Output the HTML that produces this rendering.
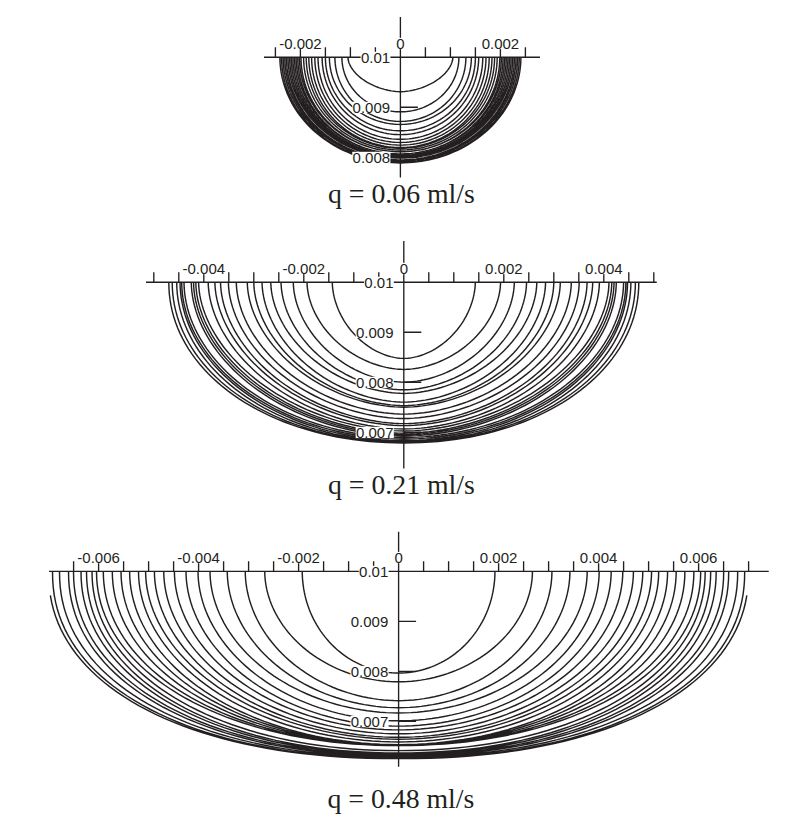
<!DOCTYPE html>
<html><head><meta charset="utf-8"><style>
html,body{margin:0;padding:0;background:#fff;width:800px;height:821px;overflow:hidden}
svg{position:absolute;left:0;top:0}
.arc{fill:none;stroke:#231f20;stroke-width:1.45}
.ax{fill:none;stroke:#231f20;stroke-width:1.35}
text{font-family:"Liberation Sans",sans-serif;font-size:15px;fill:#231f20}
.cap{font-family:"Liberation Serif",serif;font-size:27.8px;fill:#231f20}
</style></head><body>
<svg width="800" height="821" viewBox="0 0 800 821">
<path class="arc" d="M347.90,57.20 L347.94,58.03 L348.04,58.99 L348.22,60.01 L348.47,61.06 L348.79,62.13 L349.17,63.22 L349.63,64.33 L350.15,65.44 L350.75,66.56 L351.41,67.67 L352.13,68.79 L352.92,69.90 L353.77,71.00 L354.68,72.09 L355.65,73.17 L356.69,74.24 L357.77,75.29 L358.92,76.32 L360.11,77.33 L361.36,78.31 L362.65,79.28 L363.99,80.21 L365.38,81.13 L366.80,82.01 L368.27,82.86 L369.77,83.68 L371.31,84.46 L372.88,85.21 L374.47,85.93 L376.10,86.60 L377.74,87.24 L379.40,87.84 L381.08,88.40 L382.77,88.92 L384.46,89.40 L386.16,89.83 L387.86,90.22 L389.55,90.56 L391.23,90.86 L392.90,91.12 L394.53,91.33 L396.13,91.49 L397.68,91.61 L399.14,91.68 L400.40,91.70 L401.66,91.68 L403.12,91.61 L404.67,91.49 L406.27,91.33 L407.90,91.12 L409.57,90.86 L411.25,90.56 L412.94,90.22 L414.64,89.83 L416.34,89.40 L418.03,88.92 L419.72,88.40 L421.40,87.84 L423.06,87.24 L424.70,86.60 L426.33,85.93 L427.92,85.21 L429.49,84.46 L431.03,83.68 L432.53,82.86 L434.00,82.01 L435.42,81.13 L436.81,80.21 L438.15,79.28 L439.44,78.31 L440.69,77.33 L441.88,76.32 L443.03,75.29 L444.11,74.24 L445.15,73.17 L446.12,72.09 L447.03,71.00 L447.88,69.90 L448.67,68.79 L449.39,67.67 L450.05,66.56 L450.65,65.44 L451.17,64.33 L451.63,63.22 L452.01,62.13 L452.33,61.06 L452.58,60.01 L452.76,58.99 L452.86,58.03 L452.90,57.20 M341.90,57.20 L341.94,59.11 L342.04,61.01 L342.22,62.91 L342.47,64.80 L342.79,66.68 L343.18,68.55 L343.64,70.41 L344.17,72.25 L344.76,74.07 L345.43,75.87 L346.16,77.65 L346.96,79.41 L347.82,81.14 L348.75,82.83 L349.74,84.50 L350.79,86.13 L351.90,87.73 L353.07,89.29 L354.30,90.82 L355.59,92.30 L356.93,93.73 L358.32,95.13 L359.76,96.48 L361.26,97.78 L362.80,99.03 L364.38,100.23 L366.01,101.37 L367.69,102.47 L369.40,103.50 L371.15,104.48 L372.94,105.41 L374.76,106.27 L376.61,107.08 L378.49,107.82 L380.39,108.51 L382.32,109.13 L384.28,109.68 L386.25,110.18 L388.24,110.61 L390.24,110.97 L392.26,111.27 L394.29,111.50 L396.32,111.67 L398.36,111.77 L400.40,111.80 L402.44,111.77 L404.48,111.67 L406.51,111.50 L408.54,111.27 L410.56,110.97 L412.56,110.61 L414.55,110.18 L416.52,109.68 L418.48,109.13 L420.41,108.51 L422.31,107.82 L424.19,107.08 L426.04,106.27 L427.86,105.41 L429.65,104.48 L431.40,103.50 L433.11,102.47 L434.79,101.37 L436.42,100.23 L438.00,99.03 L439.54,97.78 L441.04,96.48 L442.48,95.13 L443.87,93.73 L445.21,92.30 L446.50,90.82 L447.73,89.29 L448.90,87.73 L450.01,86.13 L451.06,84.50 L452.05,82.83 L452.98,81.14 L453.84,79.41 L454.64,77.65 L455.37,75.87 L456.04,74.07 L456.63,72.25 L457.16,70.41 L457.62,68.55 L458.01,66.68 L458.33,64.80 L458.58,62.91 L458.76,61.01 L458.86,59.11 L458.90,57.20 M334.90,57.20 L334.94,59.44 L335.06,61.68 L335.26,63.91 L335.54,66.13 L335.90,68.35 L336.33,70.55 L336.85,72.73 L337.44,74.90 L338.11,77.04 L338.85,79.16 L339.67,81.25 L340.56,83.31 L341.53,85.34 L342.57,87.34 L343.68,89.30 L344.85,91.22 L346.10,93.10 L347.41,94.94 L348.79,96.73 L350.22,98.47 L351.72,100.16 L353.28,101.80 L354.90,103.38 L356.57,104.91 L358.30,106.38 L360.07,107.79 L361.90,109.14 L363.77,110.42 L365.69,111.64 L367.65,112.80 L369.65,113.89 L371.69,114.90 L373.76,115.85 L375.86,116.73 L378.00,117.53 L380.16,118.26 L382.35,118.91 L384.55,119.49 L386.78,120.00 L389.03,120.42 L391.28,120.78 L393.55,121.05 L395.83,121.24 L398.11,121.36 L400.40,121.40 L402.69,121.36 L404.97,121.24 L407.25,121.05 L409.52,120.78 L411.77,120.42 L414.02,120.00 L416.25,119.49 L418.45,118.91 L420.64,118.26 L422.80,117.53 L424.94,116.73 L427.04,115.85 L429.11,114.90 L431.15,113.89 L433.15,112.80 L435.11,111.64 L437.03,110.42 L438.90,109.14 L440.73,107.79 L442.50,106.38 L444.23,104.91 L445.90,103.38 L447.52,101.80 L449.08,100.16 L450.58,98.47 L452.01,96.73 L453.39,94.94 L454.70,93.10 L455.95,91.22 L457.12,89.30 L458.23,87.34 L459.27,85.34 L460.24,83.31 L461.13,81.25 L461.95,79.16 L462.69,77.04 L463.36,74.90 L463.95,72.73 L464.47,70.55 L464.90,68.35 L465.26,66.13 L465.54,63.91 L465.74,61.68 L465.86,59.44 L465.90,57.20 M329.40,57.20 L329.44,59.55 L329.57,61.89 L329.79,64.22 L330.09,66.55 L330.48,68.87 L330.95,71.17 L331.51,73.46 L332.15,75.72 L332.87,77.97 L333.68,80.18 L334.57,82.37 L335.54,84.53 L336.59,86.66 L337.71,88.75 L338.91,90.80 L340.19,92.81 L341.54,94.78 L342.96,96.70 L344.45,98.57 L346.01,100.40 L347.64,102.17 L349.33,103.88 L351.08,105.54 L352.89,107.14 L354.76,108.68 L356.69,110.15 L358.67,111.57 L360.70,112.91 L362.78,114.19 L364.90,115.40 L367.07,116.53 L369.28,117.60 L371.52,118.59 L373.80,119.51 L376.12,120.35 L378.46,121.11 L380.83,121.80 L383.22,122.40 L385.64,122.93 L388.07,123.38 L390.52,123.75 L392.98,124.03 L395.45,124.24 L397.92,124.36 L400.40,124.40 L402.88,124.36 L405.35,124.24 L407.82,124.03 L410.28,123.75 L412.73,123.38 L415.16,122.93 L417.58,122.40 L419.97,121.80 L422.34,121.11 L424.68,120.35 L427.00,119.51 L429.28,118.59 L431.52,117.60 L433.73,116.53 L435.90,115.40 L438.02,114.19 L440.10,112.91 L442.13,111.57 L444.11,110.15 L446.04,108.68 L447.91,107.14 L449.72,105.54 L451.47,103.88 L453.16,102.17 L454.79,100.40 L456.35,98.57 L457.84,96.70 L459.26,94.78 L460.61,92.81 L461.89,90.80 L463.09,88.75 L464.21,86.66 L465.26,84.53 L466.23,82.37 L467.12,80.18 L467.93,77.97 L468.65,75.72 L469.29,73.46 L469.85,71.17 L470.32,68.87 L470.71,66.55 L471.01,64.22 L471.23,61.89 L471.36,59.55 L471.40,57.20 M325.40,57.20 L325.45,59.77 L325.58,62.33 L325.81,64.89 L326.13,67.44 L326.54,69.98 L327.04,72.50 L327.63,75.01 L328.31,77.49 L329.07,79.94 L329.92,82.37 L330.86,84.77 L331.88,87.14 L332.99,89.46 L334.18,91.75 L335.45,94.00 L336.80,96.20 L338.22,98.36 L339.72,100.46 L341.30,102.51 L342.95,104.51 L344.66,106.45 L346.45,108.33 L348.30,110.14 L350.22,111.90 L352.19,113.58 L354.23,115.20 L356.32,116.74 L358.46,118.22 L360.66,119.62 L362.90,120.94 L365.19,122.18 L367.52,123.35 L369.89,124.44 L372.30,125.44 L374.75,126.36 L377.22,127.20 L379.73,127.95 L382.26,128.61 L384.81,129.19 L387.38,129.68 L389.96,130.08 L392.56,130.40 L395.17,130.62 L397.78,130.76 L400.40,130.80 L403.02,130.76 L405.63,130.62 L408.24,130.40 L410.84,130.08 L413.42,129.68 L415.99,129.19 L418.54,128.61 L421.07,127.95 L423.58,127.20 L426.05,126.36 L428.50,125.44 L430.91,124.44 L433.28,123.35 L435.61,122.18 L437.90,120.94 L440.14,119.62 L442.34,118.22 L444.48,116.74 L446.57,115.20 L448.61,113.58 L450.58,111.90 L452.50,110.14 L454.35,108.33 L456.14,106.45 L457.85,104.51 L459.50,102.51 L461.08,100.46 L462.58,98.36 L464.00,96.20 L465.35,94.00 L466.62,91.75 L467.81,89.46 L468.92,87.14 L469.94,84.77 L470.88,82.37 L471.73,79.94 L472.49,77.49 L473.17,75.01 L473.76,72.50 L474.26,69.98 L474.67,67.44 L474.99,64.89 L475.22,62.33 L475.35,59.77 L475.40,57.20 M322.10,57.20 L322.15,59.90 L322.29,62.60 L322.53,65.29 L322.86,67.97 L323.29,70.64 L323.81,73.29 L324.43,75.92 L325.13,78.53 L325.93,81.12 L326.82,83.67 L327.80,86.19 L328.87,88.68 L330.02,91.13 L331.27,93.54 L332.59,95.90 L334.00,98.22 L335.49,100.48 L337.05,102.69 L338.70,104.85 L340.42,106.95 L342.21,108.99 L344.08,110.97 L346.01,112.88 L348.01,114.72 L350.07,116.49 L352.19,118.19 L354.38,119.82 L356.62,121.37 L358.91,122.84 L361.25,124.23 L363.64,125.54 L366.08,126.77 L368.55,127.91 L371.07,128.96 L373.62,129.93 L376.20,130.81 L378.82,131.60 L381.46,132.30 L384.12,132.91 L386.80,133.42 L389.50,133.85 L392.22,134.18 L394.94,134.41 L397.67,134.55 L400.40,134.60 L403.13,134.55 L405.86,134.41 L408.58,134.18 L411.30,133.85 L414.00,133.42 L416.68,132.91 L419.34,132.30 L421.98,131.60 L424.60,130.81 L427.18,129.93 L429.73,128.96 L432.25,127.91 L434.72,126.77 L437.16,125.54 L439.55,124.23 L441.89,122.84 L444.18,121.37 L446.42,119.82 L448.61,118.19 L450.73,116.49 L452.79,114.72 L454.79,112.88 L456.72,110.97 L458.59,108.99 L460.38,106.95 L462.10,104.85 L463.75,102.69 L465.31,100.48 L466.80,98.22 L468.21,95.90 L469.53,93.54 L470.78,91.13 L471.93,88.68 L473.00,86.19 L473.98,83.67 L474.87,81.12 L475.67,78.53 L476.37,75.92 L476.99,73.29 L477.51,70.64 L477.94,67.97 L478.27,65.29 L478.51,62.60 L478.65,59.90 L478.70,57.20 M318.00,57.20 L318.05,60.07 L318.20,62.93 L318.45,65.78 L318.80,68.63 L319.25,71.46 L319.80,74.27 L320.45,77.06 L321.19,79.83 L322.03,82.57 L322.97,85.28 L324.00,87.96 L325.12,90.59 L326.34,93.19 L327.65,95.74 L329.04,98.25 L330.52,100.71 L332.09,103.11 L333.74,105.46 L335.47,107.75 L337.28,109.97 L339.16,112.14 L341.13,114.23 L343.16,116.26 L345.26,118.21 L347.43,120.09 L349.67,121.90 L351.97,123.62 L354.32,125.26 L356.73,126.82 L359.20,128.30 L361.72,129.69 L364.28,130.99 L366.88,132.20 L369.53,133.32 L372.22,134.35 L374.94,135.28 L377.69,136.12 L380.47,136.86 L383.27,137.51 L386.09,138.05 L388.93,138.50 L391.79,138.85 L394.65,139.10 L397.52,139.25 L400.40,139.30 L403.28,139.25 L406.15,139.10 L409.01,138.85 L411.87,138.50 L414.71,138.05 L417.53,137.51 L420.33,136.86 L423.11,136.12 L425.86,135.28 L428.58,134.35 L431.27,133.32 L433.92,132.20 L436.52,130.99 L439.08,129.69 L441.60,128.30 L444.07,126.82 L446.48,125.26 L448.83,123.62 L451.13,121.90 L453.37,120.09 L455.54,118.21 L457.64,116.26 L459.67,114.23 L461.64,112.14 L463.52,109.97 L465.33,107.75 L467.06,105.46 L468.71,103.11 L470.28,100.71 L471.76,98.25 L473.15,95.74 L474.46,93.19 L475.68,90.59 L476.80,87.96 L477.83,85.28 L478.77,82.57 L479.61,79.83 L480.35,77.06 L481.00,74.27 L481.55,71.46 L482.00,68.63 L482.35,65.78 L482.60,62.93 L482.75,60.07 L482.80,57.20 M314.80,57.20 L314.85,60.17 L315.01,63.14 L315.27,66.11 L315.63,69.06 L316.10,71.99 L316.67,74.91 L317.34,77.81 L318.12,80.68 L318.99,83.53 L319.96,86.34 L321.03,89.12 L322.20,91.85 L323.46,94.55 L324.82,97.20 L326.27,99.80 L327.81,102.35 L329.43,104.84 L331.15,107.28 L332.95,109.65 L334.83,111.97 L336.79,114.21 L338.82,116.38 L340.94,118.49 L343.12,120.52 L345.38,122.47 L347.70,124.34 L350.09,126.13 L352.53,127.83 L355.04,129.45 L357.60,130.99 L360.21,132.43 L362.88,133.78 L365.58,135.03 L368.33,136.20 L371.12,137.26 L373.95,138.23 L376.81,139.10 L379.69,139.87 L382.60,140.54 L385.54,141.11 L388.49,141.57 L391.45,141.93 L394.43,142.19 L397.41,142.35 L400.40,142.40 L403.39,142.35 L406.37,142.19 L409.35,141.93 L412.31,141.57 L415.26,141.11 L418.20,140.54 L421.11,139.87 L423.99,139.10 L426.85,138.23 L429.68,137.26 L432.47,136.20 L435.22,135.03 L437.92,133.78 L440.59,132.43 L443.20,130.99 L445.76,129.45 L448.27,127.83 L450.71,126.13 L453.10,124.34 L455.42,122.47 L457.68,120.52 L459.86,118.49 L461.98,116.38 L464.01,114.21 L465.97,111.97 L467.85,109.65 L469.65,107.28 L471.37,104.84 L472.99,102.35 L474.53,99.80 L475.98,97.20 L477.34,94.55 L478.60,91.85 L479.77,89.12 L480.84,86.34 L481.81,83.53 L482.68,80.68 L483.46,77.81 L484.13,74.91 L484.70,71.99 L485.17,69.06 L485.53,66.11 L485.79,63.14 L485.95,60.17 L486.00,57.20 M311.60,57.20 L311.65,60.27 L311.82,63.33 L312.09,66.39 L312.46,69.43 L312.95,72.46 L313.54,75.48 L314.24,78.46 L315.04,81.43 L315.95,84.36 L316.96,87.26 L318.07,90.13 L319.28,92.95 L320.59,95.73 L321.99,98.47 L323.50,101.15 L325.09,103.78 L326.78,106.35 L328.56,108.87 L330.42,111.32 L332.38,113.70 L334.41,116.02 L336.52,118.26 L338.71,120.43 L340.98,122.52 L343.32,124.54 L345.73,126.47 L348.20,128.31 L350.74,130.07 L353.34,131.74 L356.00,133.32 L358.71,134.81 L361.47,136.20 L364.28,137.50 L367.13,138.70 L370.03,139.80 L372.96,140.80 L375.92,141.69 L378.92,142.49 L381.94,143.18 L384.98,143.76 L388.04,144.24 L391.12,144.62 L394.21,144.89 L397.30,145.05 L400.40,145.10 L403.50,145.05 L406.59,144.89 L409.68,144.62 L412.76,144.24 L415.82,143.76 L418.86,143.18 L421.88,142.49 L424.88,141.69 L427.84,140.80 L430.77,139.80 L433.67,138.70 L436.52,137.50 L439.33,136.20 L442.09,134.81 L444.80,133.32 L447.46,131.74 L450.06,130.07 L452.60,128.31 L455.07,126.47 L457.48,124.54 L459.82,122.52 L462.09,120.43 L464.28,118.26 L466.39,116.02 L468.42,113.70 L470.38,111.32 L472.24,108.87 L474.02,106.35 L475.71,103.78 L477.30,101.15 L478.81,98.47 L480.21,95.73 L481.52,92.95 L482.73,90.13 L483.84,87.26 L484.85,84.36 L485.76,81.43 L486.56,78.46 L487.26,75.48 L487.85,72.46 L488.34,69.43 L488.71,66.39 L488.98,63.33 L489.15,60.27 L489.20,57.20 M308.80,57.20 L308.86,60.35 L309.02,63.50 L309.30,66.64 L309.69,69.77 L310.19,72.88 L310.80,75.97 L311.52,79.05 L312.35,82.09 L313.28,85.10 L314.32,88.08 L315.47,91.03 L316.72,93.93 L318.07,96.78 L319.52,99.59 L321.07,102.35 L322.72,105.05 L324.46,107.70 L326.29,110.28 L328.22,112.79 L330.23,115.24 L332.33,117.62 L334.51,119.93 L336.77,122.16 L339.11,124.31 L341.52,126.37 L344.01,128.36 L346.56,130.25 L349.18,132.06 L351.86,133.78 L354.60,135.40 L357.40,136.93 L360.25,138.36 L363.14,139.69 L366.09,140.92 L369.07,142.05 L372.09,143.08 L375.15,144.00 L378.24,144.82 L381.36,145.53 L384.49,146.13 L387.65,146.62 L390.83,147.01 L394.01,147.28 L397.20,147.44 L400.40,147.50 L403.60,147.44 L406.79,147.28 L409.97,147.01 L413.15,146.62 L416.31,146.13 L419.44,145.53 L422.56,144.82 L425.65,144.00 L428.71,143.08 L431.73,142.05 L434.71,140.92 L437.66,139.69 L440.55,138.36 L443.40,136.93 L446.20,135.40 L448.94,133.78 L451.62,132.06 L454.24,130.25 L456.79,128.36 L459.28,126.37 L461.69,124.31 L464.03,122.16 L466.29,119.93 L468.47,117.62 L470.57,115.24 L472.58,112.79 L474.51,110.28 L476.34,107.70 L478.08,105.05 L479.73,102.35 L481.28,99.59 L482.73,96.78 L484.08,93.93 L485.33,91.03 L486.48,88.08 L487.52,85.10 L488.45,82.09 L489.28,79.05 L490.00,75.97 L490.61,72.88 L491.11,69.77 L491.50,66.64 L491.78,63.50 L491.94,60.35 L492.00,57.20 M306.20,57.20 L306.26,60.38 L306.43,63.55 L306.72,66.72 L307.12,69.88 L307.63,73.02 L308.26,76.14 L309.00,79.24 L309.85,82.31 L310.81,85.35 L311.88,88.36 L313.06,91.33 L314.34,94.25 L315.73,97.14 L317.23,99.97 L318.82,102.75 L320.51,105.48 L322.30,108.14 L324.19,110.75 L326.17,113.29 L328.24,115.76 L330.40,118.16 L332.64,120.48 L334.96,122.73 L337.37,124.90 L339.85,126.99 L342.40,128.99 L345.03,130.90 L347.72,132.73 L350.48,134.46 L353.30,136.09 L356.18,137.64 L359.11,139.08 L362.09,140.42 L365.11,141.67 L368.18,142.81 L371.29,143.84 L374.43,144.77 L377.61,145.59 L380.81,146.31 L384.04,146.92 L387.29,147.41 L390.55,147.80 L393.83,148.08 L397.11,148.24 L400.40,148.30 L403.69,148.24 L406.97,148.08 L410.25,147.80 L413.51,147.41 L416.76,146.92 L419.99,146.31 L423.19,145.59 L426.37,144.77 L429.51,143.84 L432.62,142.81 L435.69,141.67 L438.71,140.42 L441.69,139.08 L444.62,137.64 L447.50,136.09 L450.32,134.46 L453.08,132.73 L455.77,130.90 L458.40,128.99 L460.95,126.99 L463.43,124.90 L465.84,122.73 L468.16,120.48 L470.40,118.16 L472.56,115.76 L474.63,113.29 L476.61,110.75 L478.50,108.14 L480.29,105.48 L481.98,102.75 L483.57,99.97 L485.07,97.14 L486.46,94.25 L487.74,91.33 L488.92,88.36 L489.99,85.35 L490.95,82.31 L491.80,79.24 L492.54,76.14 L493.17,73.02 L493.68,69.88 L494.08,66.72 L494.37,63.55 L494.54,60.38 L494.60,57.20 M303.60,57.20 L303.66,60.44 L303.84,63.67 L304.13,66.90 L304.54,70.12 L305.07,73.31 L305.72,76.49 L306.48,79.65 L307.35,82.78 L308.34,85.88 L309.44,88.94 L310.65,91.96 L311.97,94.95 L313.40,97.88 L314.93,100.77 L316.57,103.60 L318.31,106.38 L320.15,109.09 L322.09,111.75 L324.12,114.33 L326.25,116.85 L328.46,119.30 L330.77,121.66 L333.16,123.95 L335.63,126.16 L338.18,128.29 L340.80,130.33 L343.50,132.28 L346.27,134.13 L349.10,135.90 L352.00,137.57 L354.96,139.14 L357.97,140.61 L361.03,141.98 L364.14,143.24 L367.29,144.40 L370.49,145.46 L373.72,146.41 L376.98,147.24 L380.27,147.97 L383.59,148.59 L386.93,149.10 L390.28,149.49 L393.65,149.77 L397.02,149.94 L400.40,150.00 L403.78,149.94 L407.15,149.77 L410.52,149.49 L413.87,149.10 L417.21,148.59 L420.53,147.97 L423.82,147.24 L427.08,146.41 L430.31,145.46 L433.51,144.40 L436.66,143.24 L439.77,141.98 L442.83,140.61 L445.84,139.14 L448.80,137.57 L451.70,135.90 L454.53,134.13 L457.30,132.28 L460.00,130.33 L462.62,128.29 L465.17,126.16 L467.64,123.95 L470.03,121.66 L472.34,119.30 L474.55,116.85 L476.68,114.33 L478.71,111.75 L480.65,109.09 L482.49,106.38 L484.23,103.60 L485.87,100.77 L487.40,97.88 L488.83,94.95 L490.15,91.96 L491.36,88.94 L492.46,85.88 L493.45,82.78 L494.32,79.65 L495.08,76.49 L495.73,73.31 L496.26,70.12 L496.67,66.90 L496.96,63.67 L497.14,60.44 L497.20,57.20 M301.00,57.20 L301.06,60.50 L301.24,63.80 L301.54,67.08 L301.97,70.36 L302.51,73.62 L303.17,76.86 L303.95,80.07 L304.85,83.26 L305.86,86.42 L306.99,89.54 L308.24,92.62 L309.59,95.66 L311.06,98.65 L312.64,101.59 L314.32,104.47 L316.10,107.30 L317.99,110.07 L319.98,112.78 L322.07,115.41 L324.26,117.98 L326.53,120.47 L328.90,122.88 L331.35,125.21 L333.89,127.46 L336.51,129.63 L339.20,131.71 L341.97,133.69 L344.82,135.59 L347.73,137.38 L350.70,139.08 L353.73,140.68 L356.83,142.18 L359.97,143.58 L363.16,144.87 L366.40,146.05 L369.68,147.12 L373.00,148.09 L376.35,148.94 L379.73,149.68 L383.14,150.31 L386.57,150.83 L390.01,151.23 L393.47,151.52 L396.93,151.69 L400.40,151.75 L403.87,151.69 L407.33,151.52 L410.79,151.23 L414.23,150.83 L417.66,150.31 L421.07,149.68 L424.45,148.94 L427.80,148.09 L431.12,147.12 L434.40,146.05 L437.64,144.87 L440.83,143.58 L443.97,142.18 L447.07,140.68 L450.10,139.08 L453.07,137.38 L455.98,135.59 L458.83,133.69 L461.60,131.71 L464.29,129.63 L466.91,127.46 L469.45,125.21 L471.90,122.88 L474.27,120.47 L476.54,117.98 L478.73,115.41 L480.82,112.78 L482.81,110.07 L484.70,107.30 L486.48,104.47 L488.16,101.59 L489.74,98.65 L491.21,95.66 L492.56,92.62 L493.81,89.54 L494.94,86.42 L495.95,83.26 L496.85,80.07 L497.63,76.86 L498.29,73.62 L498.83,70.36 L499.26,67.08 L499.56,63.80 L499.74,60.50 L499.80,57.20 M299.38,57.20 L299.44,60.50 L299.63,63.80 L299.93,67.08 L300.36,70.36 L300.91,73.62 L301.59,76.86 L302.38,80.07 L303.29,83.26 L304.32,86.42 L305.47,89.54 L306.74,92.62 L308.11,95.66 L309.60,98.65 L311.20,101.59 L312.91,104.47 L314.73,107.30 L316.65,110.07 L318.67,112.78 L320.80,115.41 L323.01,117.98 L325.33,120.47 L327.73,122.88 L330.23,125.21 L332.80,127.46 L335.47,129.63 L338.21,131.71 L341.02,133.69 L343.91,135.59 L346.87,137.38 L349.89,139.08 L352.97,140.68 L356.12,142.18 L359.31,143.58 L362.56,144.87 L365.85,146.05 L369.18,147.12 L372.56,148.09 L375.96,148.94 L379.40,149.68 L382.86,150.31 L386.34,150.83 L389.84,151.23 L393.35,151.52 L396.87,151.69 L400.40,151.75 L403.93,151.69 L407.45,151.52 L410.96,151.23 L414.46,150.83 L417.94,150.31 L421.40,149.68 L424.84,148.94 L428.24,148.09 L431.62,147.12 L434.95,146.05 L438.24,144.87 L441.49,143.58 L444.68,142.18 L447.83,140.68 L450.91,139.08 L453.93,137.38 L456.89,135.59 L459.78,133.69 L462.59,131.71 L465.33,129.63 L468.00,127.46 L470.57,125.21 L473.07,122.88 L475.47,120.47 L477.79,117.98 L480.00,115.41 L482.13,112.78 L484.15,110.07 L486.07,107.30 L487.89,104.47 L489.60,101.59 L491.20,98.65 L492.69,95.66 L494.06,92.62 L495.33,89.54 L496.48,86.42 L497.51,83.26 L498.42,80.07 L499.21,76.86 L499.89,73.62 L500.44,70.36 L500.87,67.08 L501.17,63.80 L501.36,60.50 L501.42,57.20 M297.75,57.20 L297.81,60.57 L298.00,63.95 L298.31,67.31 L298.75,70.66 L299.31,73.99 L299.99,77.31 L300.80,80.59 L301.73,83.85 L302.77,87.08 L303.94,90.27 L305.22,93.42 L306.62,96.53 L308.14,99.59 L309.77,102.60 L311.50,105.55 L313.35,108.44 L315.30,111.27 L317.35,114.04 L319.51,116.73 L321.77,119.36 L324.12,121.90 L326.56,124.37 L329.09,126.76 L331.71,129.06 L334.42,131.28 L337.20,133.40 L340.06,135.43 L343.00,137.37 L346.00,139.21 L349.07,140.94 L352.21,142.58 L355.40,144.11 L358.65,145.54 L361.95,146.86 L365.29,148.07 L368.68,149.17 L372.11,150.15 L375.57,151.03 L379.06,151.79 L382.58,152.43 L386.11,152.96 L389.67,153.37 L393.24,153.66 L396.82,153.84 L400.40,153.90 L403.98,153.84 L407.56,153.66 L411.13,153.37 L414.69,152.96 L418.22,152.43 L421.74,151.79 L425.23,151.03 L428.69,150.15 L432.12,149.17 L435.51,148.07 L438.85,146.86 L442.15,145.54 L445.40,144.11 L448.59,142.58 L451.72,140.94 L454.80,139.21 L457.80,137.37 L460.74,135.43 L463.60,133.40 L466.38,131.28 L469.09,129.06 L471.71,126.76 L474.24,124.37 L476.68,121.90 L479.03,119.36 L481.29,116.73 L483.45,114.04 L485.50,111.27 L487.45,108.44 L489.30,105.55 L491.03,102.60 L492.66,99.59 L494.18,96.53 L495.58,93.42 L496.86,90.27 L498.03,87.08 L499.07,83.85 L500.00,80.59 L500.81,77.31 L501.49,73.99 L502.05,70.66 L502.49,67.31 L502.80,63.95 L502.99,60.57 L503.05,57.20 M296.13,57.20 L296.19,60.57 L296.38,63.95 L296.70,67.31 L297.14,70.66 L297.71,73.99 L298.41,77.31 L299.23,80.59 L300.17,83.85 L301.23,87.08 L302.42,90.27 L303.72,93.42 L305.14,96.53 L306.68,99.59 L308.34,102.60 L310.10,105.55 L311.97,108.44 L313.96,111.27 L316.04,114.04 L318.23,116.73 L320.52,119.36 L322.91,121.90 L325.39,124.37 L327.97,126.76 L330.63,129.06 L333.38,131.28 L336.20,133.40 L339.11,135.43 L342.09,137.37 L345.15,139.21 L348.26,140.94 L351.45,142.58 L354.69,144.11 L357.99,145.54 L361.34,146.86 L364.74,148.07 L368.18,149.17 L371.66,150.15 L375.17,151.03 L378.72,151.79 L382.29,152.43 L385.89,152.96 L389.50,153.37 L393.13,153.66 L396.76,153.84 L400.40,153.90 L404.04,153.84 L407.67,153.66 L411.30,153.37 L414.91,152.96 L418.51,152.43 L422.08,151.79 L425.63,151.03 L429.14,150.15 L432.62,149.17 L436.06,148.07 L439.46,146.86 L442.81,145.54 L446.11,144.11 L449.35,142.58 L452.53,140.94 L455.65,139.21 L458.71,137.37 L461.69,135.43 L464.60,133.40 L467.42,131.28 L470.17,129.06 L472.83,126.76 L475.41,124.37 L477.89,121.90 L480.28,119.36 L482.57,116.73 L484.76,114.04 L486.84,111.27 L488.83,108.44 L490.70,105.55 L492.46,102.60 L494.12,99.59 L495.66,96.53 L497.08,93.42 L498.38,90.27 L499.57,87.08 L500.63,83.85 L501.57,80.59 L502.39,77.31 L503.09,73.99 L503.66,70.66 L504.10,67.31 L504.42,63.95 L504.61,60.57 L504.67,57.20 M294.51,57.20 L294.57,60.62 L294.77,64.04 L295.09,67.45 L295.54,70.85 L296.12,74.23 L296.82,77.60 L297.66,80.93 L298.61,84.24 L299.69,87.51 L300.90,90.75 L302.22,93.95 L303.66,97.10 L305.23,100.20 L306.90,103.26 L308.70,106.25 L310.60,109.19 L312.61,112.06 L314.73,114.86 L316.96,117.60 L319.28,120.26 L321.71,122.84 L324.23,125.35 L326.84,127.77 L329.55,130.10 L332.34,132.35 L335.21,134.50 L338.16,136.56 L341.19,138.53 L344.29,140.39 L347.45,142.16 L350.69,143.82 L353.98,145.37 L357.33,146.82 L360.73,148.16 L364.18,149.38 L367.68,150.50 L371.21,151.50 L374.78,152.39 L378.38,153.16 L382.01,153.81 L385.66,154.35 L389.33,154.76 L393.01,155.06 L396.70,155.24 L400.40,155.30 L404.10,155.24 L407.79,155.06 L411.47,154.76 L415.14,154.35 L418.79,153.81 L422.42,153.16 L426.02,152.39 L429.59,151.50 L433.12,150.50 L436.62,149.38 L440.07,148.16 L443.47,146.82 L446.82,145.37 L450.11,143.82 L453.34,142.16 L456.51,140.39 L459.61,138.53 L462.64,136.56 L465.59,134.50 L468.46,132.35 L471.25,130.10 L473.96,127.77 L476.57,125.35 L479.09,122.84 L481.52,120.26 L483.84,117.60 L486.07,114.86 L488.19,112.06 L490.20,109.19 L492.10,106.25 L493.90,103.26 L495.57,100.20 L497.14,97.10 L498.58,93.95 L499.90,90.75 L501.11,87.51 L502.19,84.24 L503.14,80.93 L503.98,77.60 L504.68,74.23 L505.26,70.85 L505.71,67.45 L506.03,64.04 L506.23,60.62 L506.29,57.20 M292.88,57.20 L292.95,60.66 L293.14,64.11 L293.47,67.55 L293.93,70.98 L294.51,74.39 L295.23,77.78 L296.07,81.15 L297.05,84.49 L298.14,87.79 L299.36,91.06 L300.71,94.29 L302.18,97.47 L303.76,100.60 L305.47,103.68 L307.28,106.70 L309.22,109.66 L311.26,112.56 L313.41,115.39 L315.67,118.15 L318.03,120.84 L320.50,123.44 L323.06,125.97 L325.71,128.41 L328.46,130.77 L331.29,133.04 L334.20,135.21 L337.20,137.29 L340.28,139.27 L343.42,141.16 L346.64,142.94 L349.92,144.61 L353.27,146.18 L356.67,147.64 L360.12,148.99 L363.63,150.23 L367.17,151.35 L370.76,152.36 L374.39,153.26 L378.05,154.04 L381.73,154.70 L385.44,155.24 L389.16,155.66 L392.90,155.96 L396.65,156.14 L400.40,156.20 L404.15,156.14 L407.90,155.96 L411.64,155.66 L415.36,155.24 L419.07,154.70 L422.75,154.04 L426.41,153.26 L430.04,152.36 L433.63,151.35 L437.17,150.23 L440.68,148.99 L444.13,147.64 L447.53,146.18 L450.88,144.61 L454.16,142.94 L457.38,141.16 L460.52,139.27 L463.60,137.29 L466.60,135.21 L469.51,133.04 L472.34,130.77 L475.09,128.41 L477.74,125.97 L480.30,123.44 L482.77,120.84 L485.13,118.15 L487.39,115.39 L489.54,112.56 L491.58,109.66 L493.52,106.70 L495.33,103.68 L497.04,100.60 L498.62,97.47 L500.09,94.29 L501.44,91.06 L502.66,87.79 L503.75,84.49 L504.73,81.15 L505.57,77.78 L506.29,74.39 L506.87,70.98 L507.33,67.55 L507.66,64.11 L507.85,60.66 L507.92,57.20 M291.26,57.20 L291.33,60.68 L291.53,64.16 L291.86,67.63 L292.32,71.09 L292.92,74.53 L293.64,77.95 L294.50,81.34 L295.49,84.71 L296.60,88.04 L297.84,91.33 L299.21,94.59 L300.70,97.79 L302.31,100.95 L304.04,104.05 L305.88,107.10 L307.84,110.09 L309.92,113.01 L312.10,115.86 L314.40,118.64 L316.79,121.35 L319.29,123.98 L321.89,126.53 L324.58,128.99 L327.37,131.37 L330.25,133.65 L333.21,135.84 L336.25,137.94 L339.37,139.94 L342.56,141.84 L345.83,143.63 L349.16,145.32 L352.56,146.90 L356.01,148.37 L359.52,149.73 L363.07,150.98 L366.67,152.12 L370.32,153.13 L374.00,154.04 L377.71,154.82 L381.45,155.48 L385.21,156.03 L388.99,156.45 L392.79,156.76 L396.59,156.94 L400.40,157.00 L404.21,156.94 L408.01,156.76 L411.81,156.45 L415.59,156.03 L419.35,155.48 L423.09,154.82 L426.80,154.04 L430.48,153.13 L434.13,152.12 L437.73,150.98 L441.28,149.73 L444.79,148.37 L448.24,146.90 L451.64,145.32 L454.97,143.63 L458.24,141.84 L461.43,139.94 L464.55,137.94 L467.59,135.84 L470.55,133.65 L473.43,131.37 L476.22,128.99 L478.91,126.53 L481.51,123.98 L484.01,121.35 L486.40,118.64 L488.70,115.86 L490.88,113.01 L492.96,110.09 L494.92,107.10 L496.76,104.05 L498.49,100.95 L500.10,97.79 L501.59,94.59 L502.96,91.33 L504.20,88.04 L505.31,84.71 L506.30,81.34 L507.16,77.95 L507.88,74.53 L508.48,71.09 L508.94,67.63 L509.27,64.16 L509.47,60.68 L509.54,57.20 M289.64,57.20 L289.71,60.71 L289.91,64.22 L290.25,67.72 L290.72,71.20 L291.32,74.67 L292.06,78.12 L292.93,81.54 L293.93,84.93 L295.06,88.29 L296.32,91.61 L297.71,94.89 L299.22,98.12 L300.85,101.30 L302.60,104.43 L304.48,107.50 L306.47,110.51 L308.58,113.45 L310.79,116.33 L313.12,119.14 L315.55,121.86 L318.09,124.51 L320.73,127.08 L323.46,129.57 L326.29,131.96 L329.20,134.26 L332.21,136.47 L335.30,138.59 L338.46,140.60 L341.71,142.51 L345.02,144.32 L348.40,146.02 L351.85,147.62 L355.35,149.10 L358.91,150.47 L362.52,151.73 L366.17,152.88 L369.87,153.90 L373.60,154.81 L377.37,155.60 L381.17,156.27 L384.99,156.82 L388.82,157.25 L392.67,157.55 L396.53,157.74 L400.40,157.80 L404.27,157.74 L408.13,157.55 L411.98,157.25 L415.81,156.82 L419.63,156.27 L423.43,155.60 L427.20,154.81 L430.93,153.90 L434.63,152.88 L438.28,151.73 L441.89,150.47 L445.45,149.10 L448.95,147.62 L452.40,146.02 L455.78,144.32 L459.09,142.51 L462.34,140.60 L465.50,138.59 L468.59,136.47 L471.60,134.26 L474.51,131.96 L477.34,129.57 L480.07,127.08 L482.71,124.51 L485.25,121.86 L487.68,119.14 L490.01,116.33 L492.22,113.45 L494.33,110.51 L496.32,107.50 L498.20,104.43 L499.95,101.30 L501.58,98.12 L503.09,94.89 L504.48,91.61 L505.74,88.29 L506.87,84.93 L507.87,81.54 L508.74,78.12 L509.48,74.67 L510.08,71.20 L510.55,67.72 L510.89,64.22 L511.09,60.71 L511.16,57.20 M288.02,57.20 L288.09,60.72 L288.29,64.24 L288.64,67.75 L289.11,71.24 L289.73,74.72 L290.48,78.18 L291.36,81.61 L292.37,85.01 L293.52,88.38 L294.80,91.71 L296.20,95.00 L297.74,98.24 L299.39,101.43 L301.17,104.57 L303.08,107.65 L305.10,110.67 L307.23,113.62 L309.48,116.51 L311.84,119.32 L314.31,122.06 L316.89,124.72 L319.56,127.29 L322.33,129.78 L325.20,132.18 L328.16,134.49 L331.21,136.71 L334.34,138.83 L337.56,140.85 L340.85,142.77 L344.21,144.58 L347.64,146.29 L351.14,147.89 L354.69,149.38 L358.30,150.75 L361.96,152.01 L365.67,153.16 L369.42,154.19 L373.21,155.10 L377.03,155.90 L380.89,156.57 L384.76,157.12 L388.65,157.55 L392.56,157.85 L396.48,158.04 L400.40,158.10 L404.32,158.04 L408.24,157.85 L412.15,157.55 L416.04,157.12 L419.91,156.57 L423.77,155.90 L427.59,155.10 L431.38,154.19 L435.13,153.16 L438.84,152.01 L442.50,150.75 L446.11,149.38 L449.66,147.89 L453.16,146.29 L456.59,144.58 L459.95,142.77 L463.24,140.85 L466.46,138.83 L469.59,136.71 L472.64,134.49 L475.60,132.18 L478.47,129.78 L481.24,127.29 L483.91,124.72 L486.49,122.06 L488.96,119.32 L491.32,116.51 L493.57,113.62 L495.70,110.67 L497.72,107.65 L499.63,104.57 L501.41,101.43 L503.06,98.24 L504.60,95.00 L506.00,91.71 L507.28,88.38 L508.43,85.01 L509.44,81.61 L510.32,78.18 L511.07,74.72 L511.69,71.24 L512.16,67.75 L512.51,64.24 L512.71,60.72 L512.78,57.20 M286.39,57.20 L286.46,60.78 L286.67,64.36 L287.01,67.93 L287.50,71.49 L288.12,75.02 L288.88,78.54 L289.78,82.03 L290.81,85.49 L291.97,88.92 L293.27,92.31 L294.69,95.65 L296.25,98.95 L297.93,102.20 L299.74,105.39 L301.66,108.52 L303.71,111.60 L305.88,114.60 L308.16,117.54 L310.56,120.40 L313.06,123.18 L315.67,125.89 L318.39,128.51 L321.20,131.04 L324.11,133.48 L327.12,135.83 L330.21,138.09 L333.39,140.25 L336.65,142.30 L339.98,144.25 L343.39,146.10 L346.88,147.83 L350.42,149.46 L354.03,150.98 L357.69,152.38 L361.41,153.66 L365.17,154.83 L368.97,155.87 L372.82,156.80 L376.70,157.61 L380.60,158.29 L384.53,158.85 L388.48,159.29 L392.45,159.60 L396.42,159.79 L400.40,159.85 L404.38,159.79 L408.35,159.60 L412.32,159.29 L416.27,158.85 L420.20,158.29 L424.10,157.61 L427.98,156.80 L431.83,155.87 L435.63,154.83 L439.39,153.66 L443.11,152.38 L446.77,150.98 L450.38,149.46 L453.92,147.83 L457.40,146.10 L460.82,144.25 L464.15,142.30 L467.41,140.25 L470.59,138.09 L473.68,135.83 L476.69,133.48 L479.60,131.04 L482.41,128.51 L485.13,125.89 L487.74,123.18 L490.24,120.40 L492.64,117.54 L494.92,114.60 L497.09,111.60 L499.14,108.52 L501.06,105.39 L502.87,102.20 L504.55,98.95 L506.11,95.65 L507.53,92.31 L508.83,88.92 L509.99,85.49 L511.02,82.03 L511.92,78.54 L512.68,75.02 L513.30,71.49 L513.79,67.93 L514.13,64.36 L514.34,60.78 L514.41,57.20 M284.77,57.20 L284.84,60.78 L285.05,64.36 L285.40,67.93 L285.90,71.49 L286.53,75.02 L287.30,78.54 L288.20,82.03 L289.25,85.49 L290.43,88.92 L291.74,92.31 L293.19,95.65 L294.77,98.95 L296.47,102.20 L298.30,105.39 L300.26,108.52 L302.34,111.60 L304.54,114.60 L306.85,117.54 L309.28,120.40 L311.82,123.18 L314.47,125.89 L317.22,128.51 L320.08,131.04 L323.03,133.48 L326.07,135.83 L329.21,138.09 L332.43,140.25 L335.74,142.30 L339.13,144.25 L342.58,146.10 L346.12,147.83 L349.71,149.46 L353.37,150.98 L357.08,152.38 L360.85,153.66 L364.67,154.83 L368.53,155.87 L372.43,156.80 L376.36,157.61 L380.32,158.29 L384.31,158.85 L388.31,159.29 L392.33,159.60 L396.36,159.79 L400.40,159.85 L404.44,159.79 L408.47,159.60 L412.49,159.29 L416.49,158.85 L420.48,158.29 L424.44,157.61 L428.37,156.80 L432.27,155.87 L436.13,154.83 L439.95,153.66 L443.72,152.38 L447.43,150.98 L451.09,149.46 L454.68,147.83 L458.21,146.10 L461.67,144.25 L465.06,142.30 L468.37,140.25 L471.59,138.09 L474.73,135.83 L477.77,133.48 L480.72,131.04 L483.58,128.51 L486.33,125.89 L488.98,123.18 L491.52,120.40 L493.95,117.54 L496.26,114.60 L498.46,111.60 L500.54,108.52 L502.50,105.39 L504.33,102.20 L506.03,98.95 L507.61,95.65 L509.06,92.31 L510.37,88.92 L511.55,85.49 L512.60,82.03 L513.50,78.54 L514.27,75.02 L514.90,71.49 L515.40,67.93 L515.75,64.36 L515.96,60.78 L516.03,57.20 M283.15,57.20 L283.22,60.82 L283.44,64.44 L283.79,68.05 L284.29,71.65 L284.93,75.22 L285.71,78.78 L286.63,82.31 L287.69,85.81 L288.89,89.28 L290.22,92.70 L291.69,96.08 L293.29,99.42 L295.02,102.70 L296.87,105.93 L298.86,109.10 L300.97,112.21 L303.20,115.24 L305.54,118.21 L308.01,121.11 L310.58,123.92 L313.27,126.66 L316.06,129.31 L318.95,131.87 L321.94,134.34 L325.03,136.72 L328.21,139.00 L331.48,141.18 L334.83,143.25 L338.27,145.23 L341.77,147.09 L345.35,148.85 L349.00,150.49 L352.71,152.03 L356.48,153.44 L360.30,154.74 L364.17,155.92 L368.08,156.98 L372.03,157.92 L376.02,158.73 L380.04,159.42 L384.08,159.99 L388.14,160.43 L392.22,160.75 L396.31,160.94 L400.40,161.00 L404.49,160.94 L408.58,160.75 L412.66,160.43 L416.72,159.99 L420.76,159.42 L424.78,158.73 L428.77,157.92 L432.72,156.98 L436.63,155.92 L440.50,154.74 L444.32,153.44 L448.09,152.03 L451.80,150.49 L455.45,148.85 L459.02,147.09 L462.53,145.23 L465.97,143.25 L469.32,141.18 L472.59,139.00 L475.77,136.72 L478.86,134.34 L481.85,131.87 L484.74,129.31 L487.53,126.66 L490.22,123.92 L492.79,121.11 L495.26,118.21 L497.60,115.24 L499.83,112.21 L501.94,109.10 L503.93,105.93 L505.78,102.70 L507.51,99.42 L509.11,96.08 L510.58,92.70 L511.91,89.28 L513.11,85.81 L514.17,82.31 L515.09,78.78 L515.87,75.22 L516.51,71.65 L517.01,68.05 L517.36,64.44 L517.58,60.82 L517.65,57.20 M281.52,57.20 L281.59,60.87 L281.81,64.54 L282.17,68.20 L282.68,71.84 L283.33,75.47 L284.12,79.07 L285.05,82.65 L286.13,86.20 L287.34,89.71 L288.69,93.18 L290.18,96.61 L291.80,99.99 L293.55,103.32 L295.44,106.59 L297.45,109.80 L299.58,112.95 L301.84,116.03 L304.22,119.04 L306.72,121.97 L309.33,124.82 L312.05,127.59 L314.88,130.28 L317.82,132.87 L320.85,135.38 L323.99,137.79 L327.21,140.10 L330.52,142.31 L333.92,144.41 L337.40,146.41 L340.96,148.31 L344.59,150.09 L348.29,151.75 L352.05,153.30 L355.87,154.74 L359.74,156.06 L363.66,157.25 L367.63,158.32 L371.64,159.28 L375.68,160.10 L379.76,160.80 L383.86,161.38 L387.97,161.82 L392.11,162.14 L396.25,162.34 L400.40,162.40 L404.55,162.34 L408.69,162.14 L412.83,161.82 L416.94,161.38 L421.04,160.80 L425.12,160.10 L429.16,159.28 L433.17,158.32 L437.14,157.25 L441.06,156.06 L444.93,154.74 L448.75,153.30 L452.51,151.75 L456.21,150.09 L459.84,148.31 L463.40,146.41 L466.88,144.41 L470.28,142.31 L473.59,140.10 L476.81,137.79 L479.95,135.38 L482.98,132.87 L485.92,130.28 L488.75,127.59 L491.47,124.82 L494.08,121.97 L496.58,119.04 L498.96,116.03 L501.22,112.95 L503.35,109.80 L505.36,106.59 L507.25,103.32 L509.00,99.99 L510.62,96.61 L512.11,93.18 L513.46,89.71 L514.67,86.20 L515.75,82.65 L516.68,79.07 L517.47,75.47 L518.12,71.84 L518.63,68.20 L518.99,64.54 L519.21,60.87 L519.28,57.20 M279.90,57.20 L279.97,60.89 L280.19,64.57 L280.56,68.25 L281.07,71.91 L281.73,75.55 L282.53,79.18 L283.48,82.77 L284.57,86.33 L285.80,89.86 L287.17,93.35 L288.67,96.80 L290.32,100.19 L292.10,103.54 L294.00,106.82 L296.04,110.05 L298.21,113.21 L300.50,116.31 L302.91,119.33 L305.44,122.28 L308.09,125.14 L310.85,127.93 L313.72,130.63 L316.69,133.23 L319.77,135.75 L322.94,138.17 L326.21,140.49 L329.57,142.71 L333.02,144.83 L336.54,146.84 L340.15,148.74 L343.83,150.53 L347.58,152.20 L351.39,153.76 L355.26,155.20 L359.19,156.53 L363.16,157.73 L367.19,158.81 L371.25,159.76 L375.35,160.59 L379.48,161.29 L383.63,161.87 L387.80,162.32 L391.99,162.64 L396.19,162.84 L400.40,162.90 L404.61,162.84 L408.81,162.64 L413.00,162.32 L417.17,161.87 L421.32,161.29 L425.45,160.59 L429.55,159.76 L433.61,158.81 L437.64,157.73 L441.61,156.53 L445.54,155.20 L449.41,153.76 L453.22,152.20 L456.97,150.53 L460.65,148.74 L464.26,146.84 L467.78,144.83 L471.23,142.71 L474.59,140.49 L477.86,138.17 L481.03,135.75 L484.11,133.23 L487.08,130.63 L489.95,127.93 L492.71,125.14 L495.36,122.28 L497.89,119.33 L500.30,116.31 L502.59,113.21 L504.76,110.05 L506.80,106.82 L508.70,103.54 L510.48,100.19 L512.13,96.80 L513.63,93.35 L515.00,89.86 L516.23,86.33 L517.32,82.77 L518.27,79.18 L519.07,75.55 L519.73,71.91 L520.24,68.25 L520.61,64.57 L520.83,60.89 L520.90,57.20"/>
<path class="ax" d="M264.00,57.20 H540.00 M400.40,17.00 V177.50 M275.40,47.20 V57.20 M300.40,47.20 V57.20 M325.40,47.20 V57.20 M350.40,47.20 V57.20 M375.40,47.20 V57.20 M400.40,47.20 V57.20 M425.40,47.20 V57.20 M450.40,47.20 V57.20 M475.40,47.20 V57.20 M500.40,47.20 V57.20 M525.40,47.20 V57.20 M400.40,107.20 H417.90 M400.40,157.20 H417.90"/>
<rect x="278.83" y="37.80" width="43.13" height="11.30" fill="#fff"/>
<text transform="translate(300.40,48.90) " text-anchor="middle">-0.002</text>
<rect x="395.93" y="37.80" width="8.94" height="11.30" fill="#fff"/>
<text transform="translate(400.40,48.90) " text-anchor="middle">0</text>
<rect x="481.33" y="37.80" width="38.13" height="11.30" fill="#fff"/>
<text transform="translate(500.40,48.90) " text-anchor="middle">0.002</text>
<rect x="360.61" y="51.80" width="29.79" height="11.30" fill="#fff"/>
<text transform="translate(390.10,62.90) " text-anchor="end">0.01</text>
<rect x="352.27" y="101.80" width="38.13" height="11.30" fill="#fff"/>
<text transform="translate(390.10,112.90) " text-anchor="end">0.009</text>
<rect x="352.27" y="151.80" width="38.13" height="11.30" fill="#fff"/>
<text transform="translate(390.10,162.90) " text-anchor="end">0.008</text>
<path class="arc" d="M332.30,282.20 L332.35,284.23 L332.49,286.48 L332.72,288.83 L333.05,291.24 L333.47,293.68 L333.99,296.15 L334.59,298.63 L335.29,301.12 L336.08,303.61 L336.95,306.09 L337.91,308.56 L338.96,311.01 L340.09,313.44 L341.30,315.85 L342.60,318.22 L343.97,320.55 L345.42,322.85 L346.94,325.10 L348.54,327.30 L350.20,329.46 L351.93,331.55 L353.72,333.59 L355.58,335.57 L357.49,337.48 L359.46,339.32 L361.48,341.10 L363.55,342.80 L365.66,344.42 L367.81,345.96 L370.00,347.43 L372.23,348.80 L374.48,350.10 L376.76,351.30 L379.07,352.42 L381.38,353.44 L383.71,354.38 L386.05,355.21 L388.38,355.96 L390.71,356.60 L393.03,357.15 L395.32,357.60 L397.58,357.95 L399.78,358.20 L401.90,358.35 L403.80,358.40 L405.70,358.35 L407.82,358.20 L410.02,357.95 L412.28,357.60 L414.57,357.15 L416.89,356.60 L419.22,355.96 L421.55,355.21 L423.89,354.38 L426.22,353.44 L428.53,352.42 L430.84,351.30 L433.12,350.10 L435.37,348.80 L437.60,347.43 L439.79,345.96 L441.94,344.42 L444.05,342.80 L446.12,341.10 L448.14,339.32 L450.11,337.48 L452.02,335.57 L453.88,333.59 L455.67,331.55 L457.40,329.46 L459.06,327.30 L460.66,325.10 L462.18,322.85 L463.63,320.55 L465.00,318.22 L466.30,315.85 L467.51,313.44 L468.64,311.01 L469.69,308.56 L470.65,306.09 L471.52,303.61 L472.31,301.12 L473.01,298.63 L473.61,296.15 L474.13,293.68 L474.55,291.24 L474.88,288.83 L475.11,286.48 L475.25,284.23 L475.30,282.20 M307.05,282.20 L307.11,284.52 L307.30,287.10 L307.62,289.79 L308.07,292.54 L308.64,295.34 L309.33,298.16 L310.15,301.00 L311.10,303.85 L312.16,306.70 L313.34,309.54 L314.64,312.37 L316.06,315.17 L317.59,317.95 L319.23,320.70 L320.98,323.42 L322.84,326.09 L324.80,328.72 L326.86,331.29 L329.02,333.82 L331.27,336.28 L333.61,338.68 L336.04,341.01 L338.55,343.27 L341.14,345.46 L343.80,347.57 L346.53,349.60 L349.33,351.54 L352.19,353.40 L355.10,355.17 L358.07,356.84 L361.08,358.42 L364.13,359.90 L367.22,361.28 L370.33,362.56 L373.47,363.73 L376.62,364.80 L379.78,365.75 L382.94,366.60 L386.09,367.34 L389.22,367.97 L392.32,368.48 L395.38,368.88 L398.36,369.17 L401.23,369.34 L403.80,369.40 L406.37,369.34 L409.24,369.17 L412.22,368.88 L415.28,368.48 L418.38,367.97 L421.51,367.34 L424.66,366.60 L427.82,365.75 L430.98,364.80 L434.13,363.73 L437.27,362.56 L440.38,361.28 L443.47,359.90 L446.52,358.42 L449.53,356.84 L452.50,355.17 L455.41,353.40 L458.27,351.54 L461.07,349.60 L463.80,347.57 L466.46,345.46 L469.05,343.27 L471.56,341.01 L473.99,338.68 L476.33,336.28 L478.58,333.82 L480.74,331.29 L482.80,328.72 L484.76,326.09 L486.62,323.42 L488.37,320.70 L490.01,317.95 L491.54,315.17 L492.96,312.37 L494.26,309.54 L495.44,306.70 L496.50,303.85 L497.45,301.00 L498.27,298.16 L498.96,295.34 L499.53,292.54 L499.98,289.79 L500.30,287.10 L500.49,284.52 L500.55,282.20 M293.30,282.20 L293.37,284.86 L293.59,287.82 L293.95,290.90 L294.46,294.05 L295.11,297.26 L295.91,300.50 L296.84,303.75 L297.92,307.02 L299.13,310.28 L300.49,313.54 L301.97,316.78 L303.59,319.99 L305.34,323.18 L307.21,326.33 L309.21,329.44 L311.33,332.51 L313.57,335.52 L315.93,338.47 L318.39,341.36 L320.96,344.19 L323.64,346.94 L326.41,349.61 L329.27,352.20 L332.23,354.71 L335.27,357.13 L338.39,359.45 L341.59,361.68 L344.85,363.81 L348.18,365.84 L351.57,367.76 L355.01,369.56 L358.49,371.26 L362.02,372.84 L365.57,374.31 L369.16,375.65 L372.75,376.87 L376.36,377.97 L379.97,378.94 L383.57,379.79 L387.15,380.51 L390.69,381.10 L394.18,381.56 L397.59,381.89 L400.86,382.08 L403.80,382.15 L406.74,382.08 L410.01,381.89 L413.42,381.56 L416.91,381.10 L420.45,380.51 L424.03,379.79 L427.63,378.94 L431.24,377.97 L434.85,376.87 L438.44,375.65 L442.03,374.31 L445.58,372.84 L449.11,371.26 L452.59,369.56 L456.03,367.76 L459.42,365.84 L462.75,363.81 L466.01,361.68 L469.21,359.45 L472.33,357.13 L475.37,354.71 L478.33,352.20 L481.19,349.61 L483.96,346.94 L486.64,344.19 L489.21,341.36 L491.67,338.47 L494.03,335.52 L496.27,332.51 L498.39,329.44 L500.39,326.33 L502.26,323.18 L504.01,319.99 L505.63,316.78 L507.11,313.54 L508.47,310.28 L509.68,307.02 L510.76,303.75 L511.69,300.50 L512.49,297.26 L513.14,294.05 L513.65,290.90 L514.01,287.82 L514.23,284.86 L514.30,282.20 M281.05,282.20 L281.13,285.06 L281.37,288.25 L281.78,291.57 L282.34,294.96 L283.06,298.41 L283.95,301.90 L284.99,305.40 L286.18,308.92 L287.53,312.43 L289.03,315.94 L290.68,319.42 L292.48,322.89 L294.42,326.32 L296.51,329.71 L298.73,333.06 L301.08,336.36 L303.57,339.60 L306.19,342.78 L308.92,345.89 L311.78,348.93 L314.75,351.89 L317.83,354.77 L321.01,357.56 L324.30,360.26 L327.68,362.86 L331.14,365.37 L334.69,367.77 L338.32,370.06 L342.02,372.24 L345.78,374.30 L349.60,376.25 L353.47,378.08 L357.39,379.78 L361.34,381.36 L365.31,382.80 L369.31,384.12 L373.32,385.30 L377.33,386.35 L381.33,387.26 L385.31,388.03 L389.24,388.67 L393.12,389.16 L396.90,389.52 L400.54,389.73 L403.80,389.80 L407.06,389.73 L410.70,389.52 L414.48,389.16 L418.36,388.67 L422.29,388.03 L426.27,387.26 L430.27,386.35 L434.28,385.30 L438.29,384.12 L442.29,382.80 L446.26,381.36 L450.21,379.78 L454.13,378.08 L458.00,376.25 L461.82,374.30 L465.58,372.24 L469.28,370.06 L472.91,367.77 L476.46,365.37 L479.92,362.86 L483.30,360.26 L486.59,357.56 L489.77,354.77 L492.85,351.89 L495.82,348.93 L498.68,345.89 L501.41,342.78 L504.03,339.60 L506.52,336.36 L508.87,333.06 L511.09,329.71 L513.18,326.32 L515.12,322.89 L516.92,319.42 L518.57,315.94 L520.07,312.43 L521.42,308.92 L522.61,305.40 L523.65,301.90 L524.54,298.41 L525.26,294.96 L525.82,291.57 L526.23,288.25 L526.47,285.06 L526.55,282.20 M270.80,282.20 L270.89,285.16 L271.15,288.45 L271.59,291.88 L272.20,295.39 L272.98,298.95 L273.94,302.56 L275.07,306.18 L276.36,309.81 L277.82,313.44 L279.45,317.06 L281.24,320.67 L283.19,324.25 L285.29,327.79 L287.55,331.30 L289.95,334.76 L292.51,338.17 L295.20,341.52 L298.03,344.81 L301.00,348.02 L304.09,351.16 L307.31,354.22 L310.65,357.20 L314.10,360.08 L317.66,362.87 L321.32,365.56 L325.07,368.15 L328.92,370.63 L332.85,373.00 L336.86,375.25 L340.93,377.39 L345.07,379.40 L349.27,381.28 L353.51,383.04 L357.79,384.67 L362.10,386.17 L366.43,387.53 L370.78,388.75 L375.12,389.83 L379.45,390.78 L383.76,391.57 L388.03,392.23 L392.22,392.74 L396.32,393.11 L400.26,393.33 L403.80,393.40 L407.34,393.33 L411.28,393.11 L415.38,392.74 L419.57,392.23 L423.84,391.57 L428.15,390.78 L432.48,389.83 L436.82,388.75 L441.17,387.53 L445.50,386.17 L449.81,384.67 L454.09,383.04 L458.33,381.28 L462.53,379.40 L466.67,377.39 L470.74,375.25 L474.75,373.00 L478.68,370.63 L482.53,368.15 L486.28,365.56 L489.94,362.87 L493.50,360.08 L496.95,357.20 L500.29,354.22 L503.51,351.16 L506.60,348.02 L509.57,344.81 L512.40,341.52 L515.09,338.17 L517.65,334.76 L520.05,331.30 L522.31,327.79 L524.41,324.25 L526.36,320.67 L528.15,317.06 L529.78,313.44 L531.24,309.81 L532.53,306.18 L533.66,302.56 L534.62,298.95 L535.40,295.39 L536.01,291.88 L536.45,288.45 L536.71,285.16 L536.80,282.20 M262.05,282.20 L262.14,285.39 L262.42,288.94 L262.89,292.64 L263.54,296.42 L264.38,300.27 L265.40,304.15 L266.60,308.05 L267.98,311.97 L269.54,315.89 L271.27,319.79 L273.17,323.68 L275.25,327.54 L277.49,331.36 L279.90,335.14 L282.46,338.87 L285.18,342.55 L288.06,346.16 L291.08,349.70 L294.24,353.17 L297.53,356.56 L300.96,359.86 L304.52,363.07 L308.20,366.18 L311.99,369.18 L315.89,372.09 L319.90,374.87 L324.00,377.55 L328.18,380.10 L332.45,382.53 L336.80,384.83 L341.21,387.00 L345.68,389.04 L350.20,390.93 L354.76,392.69 L359.36,394.30 L363.98,395.77 L368.60,397.09 L373.23,398.25 L377.85,399.27 L382.44,400.13 L386.99,400.84 L391.46,401.39 L395.83,401.78 L400.03,402.02 L403.80,402.10 L407.57,402.02 L411.77,401.78 L416.14,401.39 L420.61,400.84 L425.16,400.13 L429.75,399.27 L434.37,398.25 L439.00,397.09 L443.62,395.77 L448.24,394.30 L452.84,392.69 L457.40,390.93 L461.92,389.04 L466.39,387.00 L470.80,384.83 L475.15,382.53 L479.42,380.10 L483.60,377.55 L487.70,374.87 L491.71,372.09 L495.61,369.18 L499.40,366.18 L503.08,363.07 L506.64,359.86 L510.07,356.56 L513.36,353.17 L516.52,349.70 L519.54,346.16 L522.42,342.55 L525.14,338.87 L527.70,335.14 L530.11,331.36 L532.35,327.54 L534.43,323.68 L536.33,319.79 L538.06,315.89 L539.62,311.97 L541.00,308.05 L542.20,304.15 L543.22,300.27 L544.06,296.42 L544.71,292.64 L545.18,288.94 L545.46,285.39 L545.55,282.20 M253.80,282.20 L253.90,285.48 L254.19,289.14 L254.69,292.94 L255.38,296.84 L256.26,300.79 L257.34,304.79 L258.61,308.81 L260.07,312.84 L261.72,316.87 L263.56,320.89 L265.57,324.89 L267.77,328.86 L270.14,332.80 L272.69,336.69 L275.40,340.53 L278.28,344.31 L281.32,348.03 L284.51,351.67 L287.86,355.24 L291.35,358.73 L294.98,362.12 L298.74,365.43 L302.63,368.63 L306.65,371.72 L310.78,374.71 L315.01,377.58 L319.35,380.33 L323.78,382.96 L328.30,385.46 L332.90,387.83 L337.57,390.06 L342.30,392.16 L347.08,394.11 L351.91,395.92 L356.77,397.57 L361.66,399.08 L366.56,400.44 L371.46,401.64 L376.34,402.69 L381.20,403.57 L386.01,404.30 L390.74,404.87 L395.37,405.28 L399.81,405.52 L403.80,405.60 L407.79,405.52 L412.23,405.28 L416.86,404.87 L421.59,404.30 L426.40,403.57 L431.26,402.69 L436.14,401.64 L441.04,400.44 L445.94,399.08 L450.83,397.57 L455.69,395.92 L460.52,394.11 L465.30,392.16 L470.03,390.06 L474.70,387.83 L479.30,385.46 L483.82,382.96 L488.25,380.33 L492.59,377.58 L496.82,374.71 L500.95,371.72 L504.97,368.63 L508.86,365.43 L512.62,362.12 L516.25,358.73 L519.74,355.24 L523.09,351.67 L526.28,348.03 L529.32,344.31 L532.20,340.53 L534.91,336.69 L537.46,332.80 L539.83,328.86 L542.03,324.89 L544.04,320.89 L545.88,316.87 L547.53,312.84 L548.99,308.81 L550.26,304.79 L551.34,300.79 L552.22,296.84 L552.91,292.94 L553.41,289.14 L553.70,285.48 L553.80,282.20 M247.30,282.20 L247.40,285.52 L247.71,289.23 L248.23,293.08 L248.95,297.03 L249.87,301.03 L250.99,305.08 L252.32,309.15 L253.84,313.24 L255.56,317.32 L257.48,321.39 L259.58,325.44 L261.87,329.47 L264.35,333.45 L267.01,337.39 L269.84,341.28 L272.84,345.12 L276.01,348.88 L279.35,352.57 L282.84,356.19 L286.48,359.72 L290.26,363.16 L294.19,366.50 L298.25,369.75 L302.44,372.88 L306.74,375.91 L311.16,378.82 L315.69,381.60 L320.32,384.27 L325.03,386.80 L329.83,389.20 L334.70,391.46 L339.63,393.58 L344.62,395.56 L349.66,397.39 L354.73,399.07 L359.83,400.60 L364.94,401.97 L370.05,403.19 L375.15,404.25 L380.22,405.15 L385.24,405.89 L390.18,406.46 L395.00,406.87 L399.64,407.12 L403.80,407.20 L407.96,407.12 L412.60,406.87 L417.42,406.46 L422.36,405.89 L427.38,405.15 L432.45,404.25 L437.55,403.19 L442.66,401.97 L447.77,400.60 L452.87,399.07 L457.94,397.39 L462.98,395.56 L467.97,393.58 L472.90,391.46 L477.77,389.20 L482.57,386.80 L487.28,384.27 L491.91,381.60 L496.44,378.82 L500.86,375.91 L505.16,372.88 L509.35,369.75 L513.41,366.50 L517.34,363.16 L521.12,359.72 L524.76,356.19 L528.25,352.57 L531.59,348.88 L534.76,345.12 L537.76,341.28 L540.59,337.39 L543.25,333.45 L545.73,329.47 L548.02,325.44 L550.12,321.39 L552.04,317.32 L553.76,313.24 L555.28,309.15 L556.61,305.08 L557.73,301.03 L558.65,297.03 L559.37,293.08 L559.89,289.23 L560.20,285.52 L560.30,282.20 M236.30,282.20 L236.41,285.71 L236.74,289.61 L237.29,293.68 L238.06,297.84 L239.05,302.07 L240.25,306.34 L241.67,310.64 L243.30,314.95 L245.14,319.26 L247.19,323.55 L249.45,327.83 L251.90,332.07 L254.55,336.28 L257.39,340.44 L260.42,344.55 L263.64,348.59 L267.03,352.56 L270.60,356.46 L274.33,360.27 L278.23,364.00 L282.28,367.63 L286.49,371.16 L290.83,374.58 L295.31,377.89 L299.92,381.08 L304.65,384.15 L309.50,387.09 L314.45,389.90 L319.49,392.57 L324.63,395.10 L329.84,397.49 L335.12,399.73 L340.46,401.82 L345.86,403.75 L351.28,405.52 L356.74,407.13 L362.21,408.58 L367.68,409.87 L373.14,410.99 L378.56,411.94 L383.93,412.71 L389.22,413.32 L394.38,413.75 L399.35,414.01 L403.80,414.10 L408.25,414.01 L413.22,413.75 L418.38,413.32 L423.67,412.71 L429.04,411.94 L434.46,410.99 L439.92,409.87 L445.39,408.58 L450.86,407.13 L456.32,405.52 L461.74,403.75 L467.14,401.82 L472.48,399.73 L477.76,397.49 L482.97,395.10 L488.11,392.57 L493.15,389.90 L498.10,387.09 L502.95,384.15 L507.68,381.08 L512.29,377.89 L516.77,374.58 L521.11,371.16 L525.32,367.63 L529.37,364.00 L533.27,360.27 L537.00,356.46 L540.57,352.56 L543.96,348.59 L547.18,344.55 L550.21,340.44 L553.05,336.28 L555.70,332.07 L558.15,327.83 L560.41,323.55 L562.46,319.26 L564.30,314.95 L565.93,310.64 L567.35,306.34 L568.55,302.07 L569.54,297.84 L570.31,293.68 L570.86,289.61 L571.19,285.71 L571.30,282.20 M228.40,282.20 L228.52,285.82 L228.86,289.86 L229.44,294.06 L230.24,298.37 L231.28,302.74 L232.54,307.15 L234.03,311.59 L235.73,316.04 L237.66,320.49 L239.81,324.93 L242.17,329.35 L244.73,333.74 L247.51,338.09 L250.49,342.38 L253.66,346.63 L257.03,350.80 L260.58,354.91 L264.32,358.94 L268.23,362.88 L272.31,366.73 L276.55,370.48 L280.95,374.13 L285.50,377.66 L290.20,381.08 L295.02,384.38 L299.98,387.55 L305.05,390.59 L310.23,393.49 L315.52,396.25 L320.89,398.87 L326.35,401.34 L331.88,403.65 L337.48,405.81 L343.12,407.80 L348.81,409.64 L354.52,411.30 L360.25,412.80 L365.98,414.13 L371.69,415.28 L377.37,416.26 L383.00,417.07 L388.53,417.69 L393.94,418.14 L399.14,418.41 L403.80,418.50 L408.46,418.41 L413.66,418.14 L419.07,417.69 L424.60,417.07 L430.23,416.26 L435.91,415.28 L441.62,414.13 L447.35,412.80 L453.08,411.30 L458.79,409.64 L464.48,407.80 L470.12,405.81 L475.72,403.65 L481.25,401.34 L486.71,398.87 L492.08,396.25 L497.37,393.49 L502.55,390.59 L507.62,387.55 L512.58,384.38 L517.40,381.08 L522.10,377.66 L526.65,374.13 L531.05,370.48 L535.29,366.73 L539.37,362.88 L543.28,358.94 L547.02,354.91 L550.57,350.80 L553.94,346.63 L557.11,342.38 L560.09,338.09 L562.87,333.74 L565.43,329.35 L567.79,324.93 L569.94,320.49 L571.87,316.04 L573.57,311.59 L575.06,307.15 L576.32,302.74 L577.36,298.37 L578.16,294.06 L578.74,289.86 L579.08,285.82 L579.20,282.20 M220.55,282.20 L220.67,285.96 L221.03,290.15 L221.64,294.51 L222.48,298.97 L223.56,303.50 L224.88,308.08 L226.43,312.69 L228.21,317.31 L230.23,321.93 L232.47,326.53 L234.93,331.12 L237.62,335.67 L240.51,340.18 L243.62,344.64 L246.94,349.04 L250.46,353.37 L254.17,357.63 L258.07,361.81 L262.16,365.90 L266.42,369.89 L270.86,373.78 L275.46,377.57 L280.21,381.23 L285.11,384.78 L290.16,388.20 L295.33,391.49 L300.63,394.65 L306.05,397.66 L311.57,400.52 L317.18,403.24 L322.89,405.79 L328.66,408.19 L334.51,410.43 L340.41,412.50 L346.35,414.40 L352.32,416.13 L358.30,417.69 L364.29,419.06 L370.26,420.26 L376.19,421.28 L382.07,422.11 L387.85,422.76 L393.50,423.23 L398.93,423.51 L403.80,423.60 L408.67,423.51 L414.10,423.23 L419.75,422.76 L425.53,422.11 L431.41,421.28 L437.34,420.26 L443.31,419.06 L449.30,417.69 L455.28,416.13 L461.25,414.40 L467.19,412.50 L473.09,410.43 L478.94,408.19 L484.71,405.79 L490.42,403.24 L496.03,400.52 L501.55,397.66 L506.97,394.65 L512.27,391.49 L517.44,388.20 L522.49,384.78 L527.39,381.23 L532.14,377.57 L536.74,373.78 L541.18,369.89 L545.44,365.90 L549.53,361.81 L553.43,357.63 L557.14,353.37 L560.66,349.04 L563.98,344.64 L567.09,340.18 L569.98,335.67 L572.67,331.12 L575.13,326.53 L577.37,321.93 L579.39,317.31 L581.17,312.69 L582.72,308.08 L584.04,303.50 L585.12,298.97 L585.96,294.51 L586.57,290.15 L586.93,285.96 L587.05,282.20 M214.90,282.20 L215.02,286.01 L215.40,290.26 L216.02,294.68 L216.89,299.21 L218.00,303.81 L219.36,308.45 L220.96,313.12 L222.80,317.80 L224.87,322.49 L227.19,327.16 L229.73,331.81 L232.49,336.42 L235.48,341.00 L238.69,345.52 L242.10,349.98 L245.73,354.38 L249.56,358.70 L253.58,362.93 L257.79,367.08 L262.19,371.13 L266.76,375.08 L271.50,378.91 L276.40,382.63 L281.45,386.23 L286.65,389.70 L291.99,393.04 L297.45,396.24 L303.03,399.29 L308.72,402.20 L314.51,404.95 L320.39,407.54 L326.35,409.98 L332.37,412.25 L338.45,414.35 L344.58,416.27 L350.73,418.03 L356.90,419.60 L363.07,421.00 L369.22,422.22 L375.34,423.25 L381.39,424.09 L387.36,424.75 L393.18,425.22 L398.78,425.51 L403.80,425.60 L408.82,425.51 L414.42,425.22 L420.24,424.75 L426.21,424.09 L432.26,423.25 L438.38,422.22 L444.53,421.00 L450.70,419.60 L456.87,418.03 L463.02,416.27 L469.15,414.35 L475.23,412.25 L481.25,409.98 L487.21,407.54 L493.09,404.95 L498.88,402.20 L504.57,399.29 L510.15,396.24 L515.61,393.04 L520.95,389.70 L526.15,386.23 L531.20,382.63 L536.10,378.91 L540.84,375.08 L545.41,371.13 L549.81,367.08 L554.02,362.93 L558.04,358.70 L561.87,354.38 L565.50,349.98 L568.91,345.52 L572.12,341.00 L575.11,336.42 L577.87,331.81 L580.41,327.16 L582.73,322.49 L584.80,317.80 L586.64,313.12 L588.24,308.45 L589.60,303.81 L590.71,299.21 L591.58,294.68 L592.20,290.26 L592.58,286.01 L592.70,282.20 M208.20,282.20 L208.33,286.10 L208.72,290.45 L209.36,294.98 L210.26,299.61 L211.41,304.32 L212.82,309.07 L214.47,313.85 L216.38,318.65 L218.53,323.44 L220.92,328.23 L223.55,332.98 L226.42,337.71 L229.51,342.39 L232.83,347.02 L236.37,351.59 L240.12,356.09 L244.09,360.51 L248.25,364.85 L252.61,369.09 L257.16,373.24 L261.90,377.28 L266.81,381.21 L271.88,385.02 L277.11,388.70 L282.50,392.25 L288.02,395.67 L293.68,398.94 L299.46,402.07 L305.35,405.04 L311.34,407.86 L317.43,410.51 L323.60,413.01 L329.84,415.33 L336.13,417.48 L342.47,419.45 L348.85,421.25 L355.23,422.86 L361.62,424.29 L368.00,425.54 L374.33,426.59 L380.60,427.46 L386.78,428.13 L392.81,428.61 L398.60,428.90 L403.80,429.00 L409.00,428.90 L414.79,428.61 L420.82,428.13 L427.00,427.46 L433.27,426.59 L439.60,425.54 L445.98,424.29 L452.37,422.86 L458.75,421.25 L465.13,419.45 L471.47,417.48 L477.76,415.33 L484.00,413.01 L490.17,410.51 L496.26,407.86 L502.25,405.04 L508.14,402.07 L513.92,398.94 L519.58,395.67 L525.10,392.25 L530.49,388.70 L535.72,385.02 L540.79,381.21 L545.70,377.28 L550.44,373.24 L554.99,369.09 L559.35,364.85 L563.51,360.51 L567.48,356.09 L571.23,351.59 L574.77,347.02 L578.09,342.39 L581.18,337.71 L584.05,332.98 L586.68,328.23 L589.07,323.44 L591.22,318.65 L593.13,313.85 L594.78,309.07 L596.19,304.32 L597.34,299.61 L598.24,294.98 L598.88,290.45 L599.27,286.10 L599.40,282.20 M198.60,282.20 L198.74,286.17 L199.14,290.58 L199.81,295.17 L200.76,299.88 L201.97,304.65 L203.44,309.47 L205.18,314.32 L207.17,319.18 L209.43,324.04 L211.94,328.89 L214.69,333.72 L217.70,338.50 L220.94,343.25 L224.42,347.94 L228.13,352.57 L232.07,357.13 L236.22,361.61 L240.59,366.01 L245.16,370.31 L249.94,374.51 L254.90,378.61 L260.05,382.58 L265.37,386.44 L270.85,390.18 L276.50,393.77 L282.29,397.23 L288.23,400.55 L294.29,403.72 L300.47,406.73 L306.75,409.58 L313.14,412.28 L319.61,414.80 L326.15,417.15 L332.76,419.33 L339.41,421.33 L346.10,423.15 L352.80,424.78 L359.50,426.23 L366.19,427.49 L372.84,428.56 L379.42,429.44 L385.91,430.12 L392.24,430.61 L398.33,430.90 L403.80,431.00 L409.27,430.90 L415.36,430.61 L421.69,430.12 L428.18,429.44 L434.76,428.56 L441.41,427.49 L448.10,426.23 L454.80,424.78 L461.50,423.15 L468.19,421.33 L474.84,419.33 L481.45,417.15 L487.99,414.80 L494.46,412.28 L500.85,409.58 L507.13,406.73 L513.31,403.72 L519.37,400.55 L525.31,397.23 L531.10,393.77 L536.75,390.18 L542.23,386.44 L547.55,382.58 L552.70,378.61 L557.66,374.51 L562.44,370.31 L567.01,366.01 L571.38,361.61 L575.53,357.13 L579.47,352.57 L583.18,347.94 L586.66,343.25 L589.90,338.50 L592.91,333.72 L595.66,328.89 L598.17,324.04 L600.43,319.18 L602.42,314.32 L604.16,309.47 L605.63,304.65 L606.84,299.88 L607.79,295.17 L608.46,290.58 L608.86,286.17 L609.00,282.20 M195.80,282.20 L195.94,286.37 L196.34,290.95 L197.02,295.69 L197.96,300.52 L199.18,305.42 L200.66,310.35 L202.40,315.30 L204.41,320.25 L206.67,325.20 L209.19,330.13 L211.96,335.03 L214.97,339.89 L218.23,344.71 L221.73,349.46 L225.46,354.15 L229.42,358.76 L233.59,363.29 L237.99,367.74 L242.59,372.08 L247.39,376.32 L252.38,380.46 L257.56,384.47 L262.92,388.36 L268.45,392.12 L274.15,395.75 L279.99,399.24 L285.97,402.57 L292.09,405.76 L298.34,408.80 L304.69,411.67 L311.15,414.38 L317.70,416.91 L324.33,419.28 L331.02,421.47 L337.77,423.48 L344.56,425.31 L351.38,426.95 L358.21,428.41 L365.03,429.67 L371.82,430.75 L378.56,431.63 L385.22,432.32 L391.74,432.81 L398.05,433.10 L403.80,433.20 L409.55,433.10 L415.86,432.81 L422.38,432.32 L429.04,431.63 L435.78,430.75 L442.57,429.67 L449.39,428.41 L456.22,426.95 L463.04,425.31 L469.83,423.48 L476.58,421.47 L483.27,419.28 L489.90,416.91 L496.45,414.38 L502.91,411.67 L509.26,408.80 L515.51,405.76 L521.63,402.57 L527.61,399.24 L533.45,395.75 L539.15,392.12 L544.68,388.36 L550.04,384.47 L555.22,380.46 L560.21,376.32 L565.01,372.08 L569.61,367.74 L574.01,363.29 L578.18,358.76 L582.14,354.15 L585.87,349.46 L589.37,344.71 L592.63,339.89 L595.64,335.03 L598.41,330.13 L600.93,325.20 L603.19,320.25 L605.20,315.30 L606.94,310.35 L608.42,305.42 L609.64,300.52 L610.58,295.69 L611.26,290.95 L611.66,286.37 L611.80,282.20 M193.55,282.20 L193.69,286.53 L194.09,291.24 L194.77,296.08 L195.72,301.01 L196.94,305.98 L198.42,310.99 L200.17,316.01 L202.18,321.03 L204.45,326.04 L206.98,331.02 L209.76,335.97 L212.78,340.88 L216.05,345.73 L219.56,350.52 L223.31,355.24 L227.28,359.89 L231.48,364.45 L235.89,368.92 L240.51,373.29 L245.34,377.55 L250.36,381.71 L255.57,385.74 L260.96,389.65 L266.52,393.42 L272.25,397.06 L278.13,400.56 L284.16,403.91 L290.33,407.11 L296.62,410.15 L303.03,413.03 L309.54,415.74 L316.15,418.29 L322.85,420.66 L329.62,422.85 L336.45,424.87 L343.32,426.70 L350.23,428.34 L357.15,429.80 L364.08,431.07 L370.99,432.14 L377.86,433.03 L384.65,433.71 L391.33,434.21 L397.82,434.50 L403.80,434.60 L409.78,434.50 L416.27,434.21 L422.95,433.71 L429.74,433.03 L436.61,432.14 L443.52,431.07 L450.45,429.80 L457.37,428.34 L464.28,426.70 L471.15,424.87 L477.98,422.85 L484.75,420.66 L491.45,418.29 L498.06,415.74 L504.57,413.03 L510.98,410.15 L517.27,407.11 L523.44,403.91 L529.47,400.56 L535.35,397.06 L541.08,393.42 L546.64,389.65 L552.03,385.74 L557.24,381.71 L562.26,377.55 L567.09,373.29 L571.71,368.92 L576.12,364.45 L580.32,359.89 L584.29,355.24 L588.04,350.52 L591.55,345.73 L594.82,340.88 L597.84,335.97 L600.62,331.02 L603.15,326.04 L605.42,321.03 L607.43,316.01 L609.18,310.99 L610.66,305.98 L611.88,301.01 L612.83,296.08 L613.51,291.24 L613.91,286.53 L614.05,282.20 M191.30,282.20 L191.44,286.70 L191.84,291.53 L192.53,296.47 L193.48,301.49 L194.70,306.56 L196.19,311.64 L197.94,316.73 L199.96,321.81 L202.23,326.88 L204.77,331.91 L207.56,336.91 L210.59,341.86 L213.88,346.76 L217.40,351.59 L221.16,356.35 L225.15,361.02 L229.36,365.61 L233.79,370.11 L238.43,374.50 L243.28,378.79 L248.33,382.96 L253.57,387.01 L258.99,390.93 L264.58,394.72 L270.35,398.38 L276.27,401.89 L282.34,405.25 L288.55,408.45 L294.89,411.50 L301.36,414.39 L307.93,417.11 L314.60,419.66 L321.37,422.04 L328.21,424.23 L335.11,426.25 L342.07,428.09 L349.07,429.73 L356.09,431.19 L363.12,432.46 L370.15,433.54 L377.14,434.42 L384.08,435.11 L390.92,435.61 L397.58,435.90 L403.80,436.00 L410.02,435.90 L416.68,435.61 L423.52,435.11 L430.46,434.42 L437.45,433.54 L444.48,432.46 L451.51,431.19 L458.53,429.73 L465.53,428.09 L472.49,426.25 L479.39,424.23 L486.23,422.04 L493.00,419.66 L499.67,417.11 L506.24,414.39 L512.71,411.50 L519.05,408.45 L525.26,405.25 L531.33,401.89 L537.25,398.38 L543.02,394.72 L548.61,390.93 L554.03,387.01 L559.27,382.96 L564.32,378.79 L569.17,374.50 L573.81,370.11 L578.24,365.61 L582.45,361.02 L586.44,356.35 L590.20,351.59 L593.72,346.76 L597.01,341.86 L600.04,336.91 L602.83,331.91 L605.37,326.88 L607.64,321.81 L609.66,316.73 L611.41,311.64 L612.90,306.56 L614.12,301.49 L615.07,296.47 L615.76,291.53 L616.16,286.70 L616.30,282.20 M184.00,282.20 L184.14,287.16 L184.55,292.30 L185.24,297.50 L186.20,302.72 L187.43,307.95 L188.93,313.18 L190.70,318.39 L192.73,323.58 L195.03,328.73 L197.59,333.84 L200.41,338.89 L203.48,343.89 L206.80,348.82 L210.36,353.67 L214.17,358.45 L218.21,363.13 L222.48,367.72 L226.97,372.21 L231.68,376.60 L236.60,380.87 L241.73,385.02 L247.06,389.05 L252.57,392.95 L258.27,396.71 L264.15,400.33 L270.20,403.81 L276.40,407.14 L282.76,410.32 L289.26,413.33 L295.89,416.19 L302.65,418.87 L309.52,421.39 L316.49,423.74 L323.56,425.91 L330.72,427.90 L337.95,429.70 L345.24,431.33 L352.58,432.77 L359.95,434.02 L367.35,435.08 L374.76,435.95 L382.15,436.63 L389.51,437.11 L396.78,437.40 L403.80,437.50 L410.82,437.40 L418.09,437.11 L425.45,436.63 L432.84,435.95 L440.25,435.08 L447.65,434.02 L455.02,432.77 L462.36,431.33 L469.65,429.70 L476.88,427.90 L484.04,425.91 L491.11,423.74 L498.08,421.39 L504.95,418.87 L511.71,416.19 L518.34,413.33 L524.84,410.32 L531.20,407.14 L537.40,403.81 L543.45,400.33 L549.33,396.71 L555.03,392.95 L560.54,389.05 L565.87,385.02 L571.00,380.87 L575.92,376.60 L580.63,372.21 L585.12,367.72 L589.39,363.13 L593.43,358.45 L597.24,353.67 L600.80,348.82 L604.12,343.89 L607.19,338.89 L610.01,333.84 L612.57,328.73 L614.87,323.58 L616.90,318.39 L618.67,313.18 L620.17,307.95 L621.40,302.72 L622.36,297.50 L623.05,292.30 L623.46,287.16 L623.60,282.20 M181.70,282.20 L181.84,287.35 L182.25,292.62 L182.94,297.93 L183.90,303.25 L185.14,308.57 L186.64,313.88 L188.42,319.16 L190.46,324.41 L192.76,329.62 L195.33,334.78 L198.16,339.89 L201.24,344.93 L204.57,349.91 L208.14,354.80 L211.96,359.61 L216.02,364.33 L220.30,368.95 L224.81,373.47 L229.55,377.88 L234.49,382.18 L239.64,386.35 L245.00,390.40 L250.54,394.31 L256.28,398.09 L262.19,401.73 L268.27,405.22 L274.52,408.56 L280.92,411.75 L287.47,414.77 L294.15,417.64 L300.97,420.33 L307.90,422.86 L314.94,425.21 L322.08,427.38 L329.32,429.38 L336.63,431.19 L344.01,432.82 L351.45,434.26 L358.93,435.51 L366.45,436.57 L373.99,437.45 L381.53,438.13 L389.05,438.61 L396.51,438.90 L403.80,439.00 L411.09,438.90 L418.55,438.61 L426.07,438.13 L433.61,437.45 L441.15,436.57 L448.67,435.51 L456.15,434.26 L463.59,432.82 L470.97,431.19 L478.28,429.38 L485.52,427.38 L492.66,425.21 L499.70,422.86 L506.63,420.33 L513.45,417.64 L520.13,414.77 L526.68,411.75 L533.08,408.56 L539.33,405.22 L545.41,401.73 L551.32,398.09 L557.06,394.31 L562.60,390.40 L567.96,386.35 L573.11,382.18 L578.05,377.88 L582.79,373.47 L587.30,368.95 L591.58,364.33 L595.64,359.61 L599.46,354.80 L603.03,349.91 L606.36,344.93 L609.44,339.89 L612.27,334.78 L614.84,329.62 L617.14,324.41 L619.18,319.16 L620.96,313.88 L622.46,308.57 L623.70,303.25 L624.66,297.93 L625.35,292.62 L625.76,287.35 L625.90,282.20 M180.05,282.20 L180.19,287.49 L180.60,292.88 L181.29,298.28 L182.25,303.69 L183.49,309.09 L185.00,314.46 L186.78,319.81 L188.83,325.13 L191.14,330.40 L193.71,335.61 L196.54,340.77 L199.63,345.86 L202.97,350.87 L206.55,355.81 L210.38,360.66 L214.44,365.41 L218.74,370.07 L223.27,374.62 L228.01,379.06 L232.97,383.39 L238.15,387.59 L243.52,391.66 L249.09,395.60 L254.84,399.40 L260.78,403.06 L266.89,406.57 L273.16,409.92 L279.60,413.13 L286.18,416.17 L292.90,419.04 L299.76,421.75 L306.73,424.29 L313.82,426.65 L321.02,428.83 L328.31,430.84 L335.68,432.66 L343.12,434.29 L350.63,435.74 L358.20,437.00 L365.80,438.06 L373.43,438.94 L381.07,439.62 L388.71,440.11 L396.32,440.40 L403.80,440.50 L411.28,440.40 L418.89,440.11 L426.53,439.62 L434.17,438.94 L441.80,438.06 L449.40,437.00 L456.97,435.74 L464.48,434.29 L471.92,432.66 L479.29,430.84 L486.58,428.83 L493.78,426.65 L500.87,424.29 L507.84,421.75 L514.70,419.04 L521.42,416.17 L528.00,413.13 L534.44,409.92 L540.71,406.57 L546.82,403.06 L552.76,399.40 L558.51,395.60 L564.08,391.66 L569.45,387.59 L574.63,383.39 L579.59,379.06 L584.33,374.62 L588.86,370.07 L593.16,365.41 L597.22,360.66 L601.05,355.81 L604.63,350.87 L607.97,345.86 L611.06,340.77 L613.89,335.61 L616.46,330.40 L618.77,325.13 L620.82,319.81 L622.60,314.46 L624.11,309.09 L625.35,303.69 L626.31,298.28 L627.00,292.88 L627.41,287.49 L627.55,282.20 M176.70,282.20 L176.84,287.74 L177.25,293.29 L177.95,298.82 L178.91,304.34 L180.15,309.83 L181.67,315.29 L183.45,320.71 L185.51,326.09 L187.83,331.41 L190.41,336.67 L193.26,341.87 L196.36,347.00 L199.71,352.04 L203.32,357.01 L207.16,361.88 L211.25,366.65 L215.57,371.32 L220.12,375.89 L224.90,380.33 L229.89,384.66 L235.10,388.87 L240.51,392.94 L246.12,396.88 L251.92,400.68 L257.91,404.34 L264.07,407.85 L270.41,411.20 L276.91,414.40 L283.56,417.43 L290.36,420.30 L297.29,423.01 L304.36,425.54 L311.54,427.89 L318.84,430.07 L326.24,432.07 L333.73,433.88 L341.31,435.51 L348.96,436.96 L356.68,438.21 L364.46,439.27 L372.28,440.15 L380.13,440.83 L388.01,441.31 L395.91,441.60 L403.80,441.70 L411.69,441.60 L419.59,441.31 L427.47,440.83 L435.32,440.15 L443.14,439.27 L450.92,438.21 L458.64,436.96 L466.29,435.51 L473.87,433.88 L481.36,432.07 L488.76,430.07 L496.06,427.89 L503.24,425.54 L510.31,423.01 L517.24,420.30 L524.04,417.43 L530.69,414.40 L537.19,411.20 L543.53,407.85 L549.69,404.34 L555.68,400.68 L561.48,396.88 L567.09,392.94 L572.50,388.87 L577.71,384.66 L582.70,380.33 L587.48,375.89 L592.03,371.32 L596.35,366.65 L600.44,361.88 L604.28,357.01 L607.89,352.04 L611.24,347.00 L614.34,341.87 L617.19,336.67 L619.77,331.41 L622.09,326.09 L624.15,320.71 L625.93,315.29 L627.45,309.83 L628.69,304.34 L629.65,298.82 L630.35,293.29 L630.76,287.74 L630.90,282.20 M172.20,282.20 L172.34,288.05 L172.76,293.78 L173.45,299.46 L174.42,305.10 L175.67,310.68 L177.19,316.22 L178.99,321.70 L181.05,327.13 L183.39,332.49 L185.98,337.79 L188.85,343.01 L191.96,348.15 L195.34,353.21 L198.97,358.18 L202.84,363.05 L206.96,367.82 L211.31,372.49 L215.90,377.04 L220.71,381.48 L225.75,385.79 L231.00,389.98 L236.46,394.03 L242.12,397.95 L247.99,401.73 L254.04,405.36 L260.28,408.85 L266.69,412.18 L273.27,415.35 L280.02,418.36 L286.91,421.21 L293.96,423.89 L301.14,426.39 L308.45,428.73 L315.88,430.89 L323.43,432.87 L331.09,434.66 L338.84,436.28 L346.69,437.70 L354.62,438.95 L362.62,440.00 L370.70,440.86 L378.84,441.53 L387.05,442.02 L395.34,442.30 L403.80,442.40 L412.26,442.30 L420.55,442.02 L428.76,441.53 L436.90,440.86 L444.98,440.00 L452.98,438.95 L460.91,437.70 L468.76,436.28 L476.51,434.66 L484.17,432.87 L491.72,430.89 L499.15,428.73 L506.46,426.39 L513.64,423.89 L520.69,421.21 L527.58,418.36 L534.33,415.35 L540.91,412.18 L547.32,408.85 L553.56,405.36 L559.61,401.73 L565.48,397.95 L571.14,394.03 L576.60,389.98 L581.85,385.79 L586.89,381.48 L591.70,377.04 L596.29,372.49 L600.64,367.82 L604.76,363.05 L608.63,358.18 L612.26,353.21 L615.64,348.15 L618.75,343.01 L621.62,337.79 L624.21,332.49 L626.55,327.13 L628.61,321.70 L630.41,316.22 L631.93,310.68 L633.18,305.10 L634.15,299.46 L634.84,293.78 L635.26,288.05 L635.40,282.20 M168.80,282.20 L168.94,288.29 L169.36,294.17 L170.06,299.96 L171.03,305.68 L172.28,311.34 L173.81,316.94 L175.61,322.47 L177.69,327.94 L180.03,333.33 L182.64,338.65 L185.51,343.90 L188.64,349.05 L192.03,354.12 L195.68,359.10 L199.57,363.97 L203.71,368.74 L208.08,373.40 L212.70,377.95 L217.54,382.38 L222.61,386.68 L227.89,390.86 L233.39,394.90 L239.10,398.80 L245.01,402.57 L251.11,406.18 L257.40,409.65 L263.87,412.96 L270.51,416.12 L277.33,419.12 L284.30,421.95 L291.42,424.61 L298.69,427.10 L306.10,429.42 L313.63,431.57 L321.29,433.53 L329.07,435.32 L336.96,436.92 L344.95,438.34 L353.03,439.57 L361.21,440.62 L369.48,441.47 L377.84,442.14 L386.31,442.62 L394.90,442.90 L403.80,443.00 L412.70,442.90 L421.29,442.62 L429.76,442.14 L438.12,441.47 L446.39,440.62 L454.57,439.57 L462.65,438.34 L470.64,436.92 L478.53,435.32 L486.31,433.53 L493.97,431.57 L501.50,429.42 L508.91,427.10 L516.18,424.61 L523.30,421.95 L530.27,419.12 L537.09,416.12 L543.73,412.96 L550.20,409.65 L556.49,406.18 L562.59,402.57 L568.50,398.80 L574.21,394.90 L579.71,390.86 L584.99,386.68 L590.06,382.38 L594.90,377.95 L599.52,373.40 L603.89,368.74 L608.03,363.97 L611.92,359.10 L615.57,354.12 L618.96,349.05 L622.09,343.90 L624.96,338.65 L627.57,333.33 L629.91,327.94 L631.99,322.47 L633.79,316.94 L635.32,311.34 L636.57,305.68 L637.54,299.96 L638.24,294.17 L638.66,288.29 L638.80,282.20"/>
<path class="ax" d="M146.00,282.20 H656.75 M403.80,241.00 V468.60 M153.80,272.20 V282.20 M178.80,272.20 V282.20 M203.80,272.20 V282.20 M228.80,272.20 V282.20 M253.80,272.20 V282.20 M278.80,272.20 V282.20 M303.80,272.20 V282.20 M328.80,272.20 V282.20 M353.80,272.20 V282.20 M378.80,272.20 V282.20 M403.80,272.20 V282.20 M428.80,272.20 V282.20 M453.80,272.20 V282.20 M478.80,272.20 V282.20 M503.80,272.20 V282.20 M528.80,272.20 V282.20 M553.80,272.20 V282.20 M578.80,272.20 V282.20 M603.80,272.20 V282.20 M628.80,272.20 V282.20 M653.80,272.20 V282.20 M403.80,332.20 H421.30 M403.80,382.20 H421.30 M403.80,432.20 H421.30"/>
<rect x="182.24" y="262.80" width="43.13" height="11.30" fill="#fff"/>
<text transform="translate(203.80,273.90) " text-anchor="middle">-0.004</text>
<rect x="282.24" y="262.80" width="43.13" height="11.30" fill="#fff"/>
<text transform="translate(303.80,273.90) " text-anchor="middle">-0.002</text>
<rect x="399.33" y="262.80" width="8.94" height="11.30" fill="#fff"/>
<text transform="translate(403.80,273.90) " text-anchor="middle">0</text>
<rect x="484.74" y="262.80" width="38.13" height="11.30" fill="#fff"/>
<text transform="translate(503.80,273.90) " text-anchor="middle">0.002</text>
<rect x="584.74" y="262.80" width="38.13" height="11.30" fill="#fff"/>
<text transform="translate(603.80,273.90) " text-anchor="middle">0.004</text>
<rect x="364.01" y="276.80" width="29.79" height="11.30" fill="#fff"/>
<text transform="translate(393.50,287.90) " text-anchor="end">0.01</text>
<rect x="355.67" y="326.80" width="38.13" height="11.30" fill="#fff"/>
<text transform="translate(393.50,337.90) " text-anchor="end">0.009</text>
<rect x="355.67" y="376.80" width="38.13" height="11.30" fill="#fff"/>
<text transform="translate(393.50,387.90) " text-anchor="end">0.008</text>
<rect x="355.67" y="426.80" width="38.13" height="11.30" fill="#fff"/>
<text transform="translate(393.50,437.90) " text-anchor="end">0.007</text>
<path class="arc" d="M302.25,571.30 L302.31,574.85 L302.48,578.39 L302.78,581.93 L303.19,585.45 L303.71,588.96 L304.36,592.44 L305.11,595.90 L305.98,599.33 L306.97,602.73 L308.06,606.08 L309.27,609.40 L310.58,612.67 L312.00,615.88 L313.53,619.05 L315.16,622.15 L316.89,625.19 L318.72,628.17 L320.65,631.08 L322.68,633.91 L324.79,636.67 L327.00,639.35 L329.29,641.95 L331.67,644.46 L334.13,646.88 L336.67,649.21 L339.28,651.44 L341.97,653.58 L344.72,655.61 L347.54,657.55 L350.43,659.37 L353.37,661.10 L356.36,662.71 L359.41,664.21 L362.51,665.59 L365.65,666.87 L368.83,668.02 L372.04,669.06 L375.29,669.98 L378.57,670.78 L381.87,671.45 L385.19,672.01 L388.53,672.44 L391.88,672.75 L395.24,672.94 L398.60,673.00 L401.96,672.94 L405.32,672.75 L408.67,672.44 L412.01,672.01 L415.33,671.45 L418.63,670.78 L421.91,669.98 L425.16,669.06 L428.37,668.02 L431.55,666.87 L434.69,665.59 L437.79,664.21 L440.84,662.71 L443.83,661.10 L446.77,659.37 L449.66,657.55 L452.48,655.61 L455.23,653.58 L457.92,651.44 L460.53,649.21 L463.07,646.88 L465.53,644.46 L467.91,641.95 L470.20,639.35 L472.41,636.67 L474.52,633.91 L476.55,631.08 L478.48,628.17 L480.31,625.19 L482.04,622.15 L483.67,619.05 L485.20,615.88 L486.62,612.67 L487.93,609.40 L489.14,606.08 L490.23,602.73 L491.22,599.33 L492.09,595.90 L492.84,592.44 L493.49,588.96 L494.01,585.45 L494.42,581.93 L494.72,578.39 L494.89,574.85 L494.95,571.30 M264.75,571.30 L264.83,574.84 L265.08,578.50 L265.50,582.20 L266.09,585.92 L266.84,589.65 L267.75,593.37 L268.83,597.08 L270.07,600.77 L271.46,604.44 L273.02,608.07 L274.74,611.67 L276.61,615.23 L278.63,618.74 L280.79,622.19 L283.11,625.59 L285.57,628.92 L288.17,632.19 L290.90,635.38 L293.77,638.50 L296.76,641.54 L299.88,644.49 L303.13,647.36 L306.48,650.13 L309.95,652.81 L313.53,655.39 L317.21,657.86 L320.99,660.23 L324.86,662.49 L328.82,664.63 L332.85,666.66 L336.97,668.57 L341.15,670.36 L345.40,672.03 L349.71,673.57 L354.06,674.99 L358.46,676.28 L362.91,677.43 L367.38,678.45 L371.87,679.34 L376.38,680.10 L380.89,680.72 L385.40,681.20 L389.88,681.54 L394.31,681.75 L398.60,681.82 L402.89,681.75 L407.32,681.54 L411.80,681.20 L416.31,680.72 L420.82,680.10 L425.33,679.34 L429.82,678.45 L434.29,677.43 L438.74,676.28 L443.14,674.99 L447.49,673.57 L451.80,672.03 L456.05,670.36 L460.23,668.57 L464.35,666.66 L468.38,664.63 L472.34,662.49 L476.21,660.23 L479.99,657.86 L483.67,655.39 L487.25,652.81 L490.72,650.13 L494.07,647.36 L497.32,644.49 L500.44,641.54 L503.43,638.50 L506.30,635.38 L509.03,632.19 L511.63,628.92 L514.09,625.59 L516.41,622.19 L518.57,618.74 L520.59,615.23 L522.46,611.67 L524.18,608.07 L525.74,604.44 L527.13,600.77 L528.37,597.08 L529.45,593.37 L530.36,589.65 L531.11,585.92 L531.70,582.20 L532.12,578.50 L532.37,574.84 L532.45,571.30 M245.25,571.30 L245.35,575.44 L245.63,579.73 L246.11,584.06 L246.78,588.42 L247.64,592.78 L248.69,597.13 L249.92,601.48 L251.34,605.80 L252.94,610.09 L254.73,614.34 L256.69,618.55 L258.83,622.72 L261.15,626.82 L263.63,630.86 L266.28,634.84 L269.10,638.74 L272.08,642.57 L275.21,646.31 L278.49,649.96 L281.93,653.51 L285.50,656.97 L289.22,660.33 L293.06,663.57 L297.04,666.70 L301.14,669.72 L305.36,672.62 L309.68,675.39 L314.12,678.03 L318.65,680.54 L323.28,682.92 L327.99,685.15 L332.78,687.25 L337.65,689.20 L342.58,691.01 L347.57,692.66 L352.62,694.17 L357.70,695.52 L362.83,696.72 L367.98,697.76 L373.14,698.64 L378.31,699.37 L383.47,699.93 L388.61,700.34 L393.69,700.58 L398.60,700.66 L403.51,700.58 L408.59,700.34 L413.73,699.93 L418.89,699.37 L424.06,698.64 L429.22,697.76 L434.37,696.72 L439.50,695.52 L444.58,694.17 L449.63,692.66 L454.62,691.01 L459.55,689.20 L464.42,687.25 L469.21,685.15 L473.92,682.92 L478.55,680.54 L483.08,678.03 L487.52,675.39 L491.84,672.62 L496.06,669.72 L500.16,666.70 L504.14,663.57 L507.98,660.33 L511.70,656.97 L515.27,653.51 L518.71,649.96 L521.99,646.31 L525.12,642.57 L528.10,638.74 L530.92,634.84 L533.57,630.86 L536.05,626.82 L538.37,622.72 L540.51,618.55 L542.47,614.34 L544.26,610.09 L545.86,605.80 L547.28,601.48 L548.51,597.13 L549.56,592.78 L550.42,588.42 L551.09,584.06 L551.57,579.73 L551.85,575.44 L551.95,571.30 M227.25,571.30 L227.36,575.67 L227.68,580.19 L228.21,584.76 L228.96,589.35 L229.92,593.95 L231.09,598.54 L232.47,603.12 L234.05,607.68 L235.85,612.20 L237.84,616.69 L240.03,621.13 L242.43,625.52 L245.01,629.85 L247.79,634.11 L250.75,638.30 L253.90,642.42 L257.23,646.45 L260.73,650.39 L264.40,654.24 L268.23,657.99 L272.23,661.64 L276.38,665.18 L280.68,668.60 L285.12,671.90 L289.70,675.08 L294.41,678.14 L299.25,681.06 L304.20,683.85 L309.26,686.49 L314.43,689.00 L319.70,691.36 L325.06,693.57 L330.49,695.63 L336.01,697.53 L341.59,699.28 L347.22,700.87 L352.90,702.29 L358.63,703.56 L364.38,704.65 L370.15,705.58 L375.93,706.35 L381.70,706.94 L387.44,707.37 L393.11,707.62 L398.60,707.71 L404.09,707.62 L409.76,707.37 L415.50,706.94 L421.27,706.35 L427.05,705.58 L432.82,704.65 L438.57,703.56 L444.30,702.29 L449.98,700.87 L455.61,699.28 L461.19,697.53 L466.71,695.63 L472.14,693.57 L477.50,691.36 L482.77,689.00 L487.94,686.49 L493.00,683.85 L497.95,681.06 L502.79,678.14 L507.50,675.08 L512.08,671.90 L516.52,668.60 L520.82,665.18 L524.97,661.64 L528.97,657.99 L532.80,654.24 L536.47,650.39 L539.97,646.45 L543.30,642.42 L546.45,638.30 L549.41,634.11 L552.19,629.85 L554.77,625.52 L557.17,621.13 L559.36,616.69 L561.35,612.20 L563.15,607.68 L564.73,603.12 L566.11,598.54 L567.28,593.95 L568.24,589.35 L568.99,584.76 L569.52,580.19 L569.84,575.67 L569.95,571.30 M210.00,571.30 L210.12,575.84 L210.47,580.53 L211.06,585.27 L211.88,590.04 L212.94,594.82 L214.23,599.59 L215.74,604.35 L217.49,609.08 L219.46,613.78 L221.66,618.44 L224.07,623.05 L226.70,627.60 L229.55,632.10 L232.61,636.53 L235.87,640.88 L239.33,645.16 L242.99,649.34 L246.85,653.44 L250.89,657.44 L255.11,661.33 L259.51,665.12 L264.07,668.79 L268.81,672.34 L273.70,675.78 L278.74,679.08 L283.92,682.25 L289.24,685.28 L294.70,688.18 L300.27,690.93 L305.96,693.53 L311.76,695.98 L317.65,698.28 L323.64,700.41 L329.71,702.39 L335.85,704.20 L342.05,705.85 L348.30,707.33 L354.60,708.65 L360.94,709.79 L367.29,710.75 L373.65,711.55 L380.00,712.16 L386.31,712.61 L392.56,712.87 L398.60,712.96 L404.64,712.87 L410.89,712.61 L417.20,712.16 L423.55,711.55 L429.91,710.75 L436.26,709.79 L442.60,708.65 L448.90,707.33 L455.15,705.85 L461.35,704.20 L467.49,702.39 L473.56,700.41 L479.55,698.28 L485.44,695.98 L491.24,693.53 L496.93,690.93 L502.50,688.18 L507.96,685.28 L513.28,682.25 L518.46,679.08 L523.50,675.78 L528.39,672.34 L533.13,668.79 L537.69,665.12 L542.09,661.33 L546.31,657.44 L550.35,653.44 L554.21,649.34 L557.87,645.16 L561.33,640.88 L564.59,636.53 L567.65,632.10 L570.50,627.60 L573.13,623.05 L575.54,618.44 L577.74,613.78 L579.71,609.08 L581.46,604.35 L582.97,599.59 L584.26,594.82 L585.32,590.04 L586.14,585.27 L586.73,580.53 L587.08,575.84 L587.20,571.30 M198.00,571.30 L198.13,576.09 L198.50,581.04 L199.13,586.05 L200.00,591.09 L201.13,596.13 L202.49,601.16 L204.11,606.18 L205.97,611.18 L208.06,616.14 L210.40,621.06 L212.97,625.93 L215.77,630.74 L218.79,635.48 L222.05,640.16 L225.51,644.75 L229.20,649.26 L233.09,653.68 L237.19,658.01 L241.49,662.23 L245.98,666.34 L250.66,670.34 L255.51,674.21 L260.55,677.97 L265.75,681.59 L271.11,685.07 L276.62,688.42 L282.29,691.62 L288.09,694.68 L294.02,697.58 L300.07,700.33 L306.23,702.92 L312.50,705.34 L318.87,707.60 L325.32,709.68 L331.85,711.60 L338.45,713.34 L345.10,714.90 L351.80,716.29 L358.54,717.49 L365.30,718.51 L372.06,719.35 L378.81,720.00 L385.53,720.47 L392.18,720.75 L398.60,720.84 L405.02,720.75 L411.67,720.47 L418.39,720.00 L425.14,719.35 L431.90,718.51 L438.66,717.49 L445.40,716.29 L452.10,714.90 L458.75,713.34 L465.35,711.60 L471.88,709.68 L478.33,707.60 L484.70,705.34 L490.97,702.92 L497.13,700.33 L503.18,697.58 L509.11,694.68 L514.91,691.62 L520.58,688.42 L526.09,685.07 L531.45,681.59 L536.65,677.97 L541.69,674.21 L546.54,670.34 L551.22,666.34 L555.71,662.23 L560.01,658.01 L564.11,653.68 L568.00,649.26 L571.69,644.75 L575.15,640.16 L578.41,635.48 L581.43,630.74 L584.23,625.93 L586.80,621.06 L589.14,616.14 L591.23,611.18 L593.09,606.18 L594.71,601.16 L596.07,596.13 L597.20,591.09 L598.07,586.05 L598.70,581.04 L599.07,576.09 L599.20,571.30 M186.00,571.30 L186.13,576.26 L186.53,581.39 L187.19,586.57 L188.12,591.79 L189.31,597.01 L190.76,602.22 L192.47,607.42 L194.44,612.59 L196.67,617.73 L199.14,622.82 L201.86,627.86 L204.83,632.84 L208.04,637.76 L211.48,642.60 L215.16,647.36 L219.07,652.03 L223.19,656.60 L227.54,661.08 L232.09,665.45 L236.85,669.71 L241.81,673.85 L246.95,677.86 L252.29,681.75 L257.80,685.50 L263.48,689.11 L269.33,692.57 L275.33,695.89 L281.47,699.05 L287.76,702.06 L294.17,704.90 L300.71,707.58 L307.35,710.09 L314.10,712.43 L320.94,714.59 L327.86,716.57 L334.85,718.37 L341.90,719.99 L349.01,721.42 L356.14,722.67 L363.30,723.73 L370.47,724.59 L377.63,725.27 L384.75,725.75 L391.79,726.04 L398.60,726.14 L405.41,726.04 L412.45,725.75 L419.57,725.27 L426.73,724.59 L433.90,723.73 L441.06,722.67 L448.19,721.42 L455.30,719.99 L462.35,718.37 L469.34,716.57 L476.26,714.59 L483.10,712.43 L489.85,710.09 L496.49,707.58 L503.03,704.90 L509.44,702.06 L515.73,699.05 L521.87,695.89 L527.87,692.57 L533.72,689.11 L539.40,685.50 L544.91,681.75 L550.25,677.86 L555.39,673.85 L560.35,669.71 L565.11,665.45 L569.66,661.08 L574.01,656.60 L578.13,652.03 L582.04,647.36 L585.72,642.60 L589.16,637.76 L592.37,632.84 L595.34,627.86 L598.06,622.82 L600.53,617.73 L602.76,612.59 L604.73,607.42 L606.44,602.22 L607.89,597.01 L609.08,591.79 L610.01,586.57 L610.67,581.39 L611.07,576.26 L611.20,571.30 M174.40,571.30 L174.54,576.38 L174.96,581.63 L175.66,586.94 L176.64,592.28 L177.89,597.63 L179.42,602.97 L181.23,608.30 L183.30,613.59 L185.65,618.85 L188.26,624.07 L191.13,629.23 L194.26,634.33 L197.64,639.37 L201.27,644.32 L205.15,649.20 L209.27,653.98 L213.62,658.67 L218.20,663.26 L223.00,667.73 L228.02,672.09 L233.25,676.33 L238.68,680.44 L244.31,684.42 L250.12,688.26 L256.11,691.96 L262.27,695.51 L268.60,698.91 L275.08,702.15 L281.71,705.22 L288.47,708.14 L295.37,710.88 L302.37,713.45 L309.49,715.84 L316.70,718.06 L324.00,720.09 L331.37,721.93 L338.81,723.59 L346.30,725.06 L353.83,726.34 L361.38,727.42 L368.94,728.31 L376.48,729.00 L383.99,729.49 L391.42,729.79 L398.60,729.89 L405.78,729.79 L413.21,729.49 L420.72,729.00 L428.26,728.31 L435.82,727.42 L443.37,726.34 L450.90,725.06 L458.39,723.59 L465.83,721.93 L473.20,720.09 L480.50,718.06 L487.71,715.84 L494.83,713.45 L501.83,710.88 L508.73,708.14 L515.49,705.22 L522.12,702.15 L528.60,698.91 L534.93,695.51 L541.09,691.96 L547.08,688.26 L552.89,684.42 L558.52,680.44 L563.95,676.33 L569.18,672.09 L574.20,667.73 L579.00,663.26 L583.58,658.67 L587.93,653.98 L592.05,649.20 L595.93,644.32 L599.56,639.37 L602.94,634.33 L606.07,629.23 L608.94,624.07 L611.55,618.85 L613.90,613.59 L615.97,608.30 L617.78,602.97 L619.31,597.63 L620.56,592.28 L621.54,586.94 L622.24,581.63 L622.66,576.38 L622.80,571.30 M163.75,571.30 L163.90,576.50 L164.34,581.89 L165.07,587.33 L166.09,592.80 L167.41,598.28 L169.01,603.75 L170.90,609.21 L173.08,614.64 L175.53,620.03 L178.26,625.37 L181.27,630.66 L184.55,635.89 L188.09,641.04 L191.90,646.12 L195.96,651.12 L200.28,656.02 L204.83,660.82 L209.63,665.52 L214.66,670.11 L219.92,674.58 L225.40,678.92 L231.08,683.13 L236.98,687.21 L243.07,691.15 L249.34,694.93 L255.80,698.57 L262.43,702.05 L269.22,705.37 L276.16,708.53 L283.24,711.51 L290.46,714.32 L297.80,716.95 L305.26,719.41 L312.81,721.68 L320.46,723.76 L328.18,725.65 L335.97,727.35 L343.81,728.85 L351.70,730.16 L359.61,731.27 L367.53,732.18 L375.43,732.89 L383.30,733.39 L391.08,733.70 L398.60,733.80 L406.12,733.70 L413.90,733.39 L421.77,732.89 L429.67,732.18 L437.59,731.27 L445.50,730.16 L453.39,728.85 L461.23,727.35 L469.02,725.65 L476.74,723.76 L484.39,721.68 L491.94,719.41 L499.40,716.95 L506.74,714.32 L513.96,711.51 L521.04,708.53 L527.98,705.37 L534.77,702.05 L541.40,698.57 L547.86,694.93 L554.13,691.15 L560.22,687.21 L566.12,683.13 L571.80,678.92 L577.28,674.58 L582.54,670.11 L587.57,665.52 L592.37,660.82 L596.92,656.02 L601.24,651.12 L605.30,646.12 L609.11,641.04 L612.65,635.89 L615.93,630.66 L618.94,625.37 L621.67,620.03 L624.12,614.64 L626.30,609.21 L628.19,603.75 L629.79,598.28 L631.11,592.80 L632.13,587.33 L632.86,581.89 L633.30,576.50 L633.45,571.30 M154.40,571.30 L154.55,576.62 L155.01,582.11 L155.77,587.67 L156.84,593.26 L158.20,598.86 L159.87,604.45 L161.84,610.02 L164.10,615.56 L166.65,621.07 L169.49,626.53 L172.62,631.93 L176.03,637.27 L179.71,642.54 L183.67,647.73 L187.90,652.83 L192.38,657.84 L197.12,662.74 L202.11,667.54 L207.34,672.22 L212.81,676.79 L218.50,681.22 L224.41,685.53 L230.54,689.69 L236.87,693.71 L243.40,697.58 L250.11,701.30 L257.01,704.85 L264.07,708.24 L271.28,711.47 L278.65,714.51 L286.16,717.38 L293.79,720.07 L301.54,722.58 L309.40,724.90 L317.35,727.02 L325.38,728.95 L333.48,730.69 L341.63,732.23 L349.83,733.56 L358.06,734.69 L366.29,735.62 L374.51,736.35 L382.69,736.87 L390.78,737.18 L398.60,737.28 L406.42,737.18 L414.51,736.87 L422.69,736.35 L430.91,735.62 L439.14,734.69 L447.37,733.56 L455.57,732.23 L463.72,730.69 L471.82,728.95 L479.85,727.02 L487.80,724.90 L495.66,722.58 L503.41,720.07 L511.04,717.38 L518.55,714.51 L525.92,711.47 L533.13,708.24 L540.19,704.85 L547.09,701.30 L553.80,697.58 L560.33,693.71 L566.66,689.69 L572.79,685.53 L578.70,681.22 L584.39,676.79 L589.86,672.22 L595.09,667.54 L600.08,662.74 L604.82,657.84 L609.30,652.83 L613.53,647.73 L617.49,642.54 L621.17,637.27 L624.58,631.93 L627.71,626.53 L630.55,621.07 L633.10,615.56 L635.36,610.02 L637.33,604.45 L639.00,598.86 L640.36,593.26 L641.43,587.67 L642.19,582.11 L642.65,576.62 L642.80,571.30 M145.60,571.30 L145.76,576.75 L146.23,582.36 L147.02,588.01 L148.12,593.69 L149.53,599.37 L151.25,605.04 L153.28,610.69 L155.61,616.31 L158.24,621.89 L161.18,627.41 L164.41,632.88 L167.93,638.28 L171.73,643.61 L175.82,648.85 L180.18,654.01 L184.81,659.07 L189.71,664.03 L194.86,668.87 L200.26,673.60 L205.91,678.21 L211.79,682.69 L217.90,687.03 L224.24,691.24 L230.78,695.29 L237.53,699.20 L244.47,702.95 L251.60,706.53 L258.90,709.95 L266.37,713.20 L273.99,716.28 L281.76,719.17 L289.66,721.89 L297.69,724.41 L305.82,726.75 L314.06,728.89 L322.39,730.84 L330.79,732.59 L339.25,734.14 L347.76,735.48 L356.31,736.62 L364.86,737.56 L373.42,738.29 L381.94,738.81 L390.39,739.13 L398.60,739.23 L406.81,739.13 L415.26,738.81 L423.78,738.29 L432.34,737.56 L440.89,736.62 L449.44,735.48 L457.95,734.14 L466.41,732.59 L474.81,730.84 L483.14,728.89 L491.38,726.75 L499.51,724.41 L507.54,721.89 L515.44,719.17 L523.21,716.28 L530.83,713.20 L538.30,709.95 L545.60,706.53 L552.73,702.95 L559.67,699.20 L566.42,695.29 L572.96,691.24 L579.30,687.03 L585.41,682.69 L591.29,678.21 L596.94,673.60 L602.34,668.87 L607.49,664.03 L612.39,659.07 L617.02,654.01 L621.38,648.85 L625.47,643.61 L629.27,638.28 L632.79,632.88 L636.02,627.41 L638.96,621.89 L641.59,616.31 L643.92,610.69 L645.95,605.04 L647.67,599.37 L649.08,593.69 L650.18,588.01 L650.97,582.36 L651.44,576.75 L651.60,571.30 M138.50,571.30 L138.66,577.01 L139.14,582.81 L139.94,588.64 L141.06,594.46 L142.50,600.28 L144.25,606.08 L146.32,611.85 L148.70,617.57 L151.39,623.25 L154.38,628.87 L157.67,634.43 L161.26,639.92 L165.14,645.32 L169.30,650.64 L173.75,655.87 L178.48,660.99 L183.47,666.01 L188.73,670.92 L194.25,675.70 L200.02,680.36 L206.03,684.89 L212.27,689.28 L218.74,693.52 L225.43,697.62 L232.33,701.56 L239.44,705.34 L246.73,708.96 L254.21,712.41 L261.86,715.69 L269.67,718.79 L277.64,721.70 L285.75,724.44 L293.99,726.98 L302.36,729.34 L310.83,731.50 L319.40,733.46 L328.06,735.22 L336.79,736.78 L345.58,738.14 L354.41,739.29 L363.28,740.23 L372.17,740.96 L381.05,741.49 L389.90,741.80 L398.60,741.91 L407.30,741.80 L416.15,741.49 L425.03,740.96 L433.92,740.23 L442.79,739.29 L451.62,738.14 L460.41,736.78 L469.14,735.22 L477.80,733.46 L486.37,731.50 L494.84,729.34 L503.21,726.98 L511.45,724.44 L519.56,721.70 L527.53,718.79 L535.34,715.69 L542.99,712.41 L550.47,708.96 L557.76,705.34 L564.87,701.56 L571.77,697.62 L578.46,693.52 L584.93,689.28 L591.17,684.89 L597.18,680.36 L602.95,675.70 L608.47,670.92 L613.73,666.01 L618.72,660.99 L623.45,655.87 L627.90,650.64 L632.06,645.32 L635.94,639.92 L639.53,634.43 L642.82,628.87 L645.81,623.25 L648.50,617.57 L650.88,611.85 L652.95,606.08 L654.70,600.28 L656.14,594.46 L657.26,588.64 L658.06,582.81 L658.54,577.01 L658.70,571.30 M129.60,571.30 L129.76,577.32 L130.26,583.35 L131.08,589.36 L132.22,595.36 L133.69,601.33 L135.49,607.26 L137.60,613.15 L140.03,618.99 L142.78,624.78 L145.84,630.50 L149.21,636.14 L152.88,641.71 L156.86,647.20 L161.12,652.59 L165.68,657.88 L170.52,663.07 L175.64,668.14 L181.03,673.10 L186.69,677.94 L192.60,682.64 L198.77,687.21 L205.18,691.64 L211.82,695.92 L218.69,700.05 L225.79,704.02 L233.09,707.83 L240.59,711.47 L248.29,714.95 L256.16,718.24 L264.22,721.36 L272.43,724.30 L280.80,727.05 L289.31,729.61 L297.95,731.98 L306.72,734.15 L315.60,736.12 L324.57,737.89 L333.64,739.46 L342.78,740.82 L351.99,741.97 L361.25,742.92 L370.56,743.66 L379.90,744.19 L389.25,744.50 L398.60,744.61 L407.95,744.50 L417.30,744.19 L426.64,743.66 L435.95,742.92 L445.21,741.97 L454.42,740.82 L463.56,739.46 L472.63,737.89 L481.60,736.12 L490.48,734.15 L499.25,731.98 L507.89,729.61 L516.40,727.05 L524.77,724.30 L532.98,721.36 L541.04,718.24 L548.91,714.95 L556.61,711.47 L564.11,707.83 L571.41,704.02 L578.51,700.05 L585.38,695.92 L592.02,691.64 L598.43,687.21 L604.60,682.64 L610.51,677.94 L616.17,673.10 L621.56,668.14 L626.68,663.07 L631.52,657.88 L636.08,652.59 L640.34,647.20 L644.32,641.71 L647.99,636.14 L651.36,630.50 L654.42,624.78 L657.17,618.99 L659.60,613.15 L661.71,607.26 L663.51,601.33 L664.98,595.36 L666.12,589.36 L666.94,583.35 L667.44,577.32 L667.60,571.30 M121.00,571.30 L121.17,577.54 L121.67,583.70 L122.51,589.81 L123.68,595.88 L125.18,601.91 L127.01,607.88 L129.17,613.81 L131.65,619.67 L134.46,625.47 L137.59,631.20 L141.03,636.85 L144.78,642.42 L148.84,647.90 L153.21,653.28 L157.87,658.56 L162.82,663.73 L168.05,668.78 L173.57,673.72 L179.36,678.53 L185.41,683.21 L191.73,687.75 L198.29,692.15 L205.10,696.41 L212.15,700.51 L219.42,704.45 L226.91,708.23 L234.61,711.85 L242.52,715.29 L250.61,718.56 L258.89,721.65 L267.34,724.56 L275.96,727.29 L284.73,729.83 L293.64,732.17 L302.69,734.32 L311.86,736.27 L321.15,738.03 L330.54,739.58 L340.02,740.93 L349.59,742.07 L359.24,743.01 L368.96,743.74 L378.74,744.26 L388.60,744.58 L398.60,744.68 L408.60,744.58 L418.46,744.26 L428.24,743.74 L437.96,743.01 L447.61,742.07 L457.18,740.93 L466.66,739.58 L476.05,738.03 L485.34,736.27 L494.51,734.32 L503.56,732.17 L512.47,729.83 L521.24,727.29 L529.86,724.56 L538.31,721.65 L546.59,718.56 L554.68,715.29 L562.59,711.85 L570.29,708.23 L577.78,704.45 L585.05,700.51 L592.10,696.41 L598.91,692.15 L605.47,687.75 L611.79,683.21 L617.84,678.53 L623.63,673.72 L629.15,668.78 L634.38,663.73 L639.33,658.56 L643.99,653.28 L648.36,647.90 L652.42,642.42 L656.17,636.85 L659.61,631.20 L662.74,625.47 L665.55,619.67 L668.03,613.81 L670.19,607.88 L672.02,601.91 L673.52,595.88 L674.69,589.81 L675.53,583.70 L676.03,577.54 L676.20,571.30 M112.30,571.30 L112.47,577.78 L112.98,584.07 L113.84,590.28 L115.03,596.43 L116.56,602.51 L118.43,608.53 L120.64,614.49 L123.17,620.39 L126.04,626.21 L129.23,631.95 L132.75,637.60 L136.58,643.17 L140.73,648.65 L145.18,654.02 L149.94,659.29 L155.00,664.45 L160.36,669.49 L166.00,674.40 L171.92,679.19 L178.11,683.85 L184.57,688.37 L191.29,692.75 L198.27,696.97 L205.48,701.05 L212.94,704.96 L220.62,708.72 L228.52,712.31 L236.63,715.73 L244.95,718.97 L253.45,722.04 L262.15,724.93 L271.01,727.63 L280.04,730.14 L289.23,732.47 L298.56,734.60 L308.03,736.53 L317.63,738.27 L327.35,739.81 L337.18,741.14 L347.12,742.28 L357.15,743.20 L367.29,743.93 L377.54,744.45 L387.92,744.76 L398.60,744.86 L409.28,744.76 L419.66,744.45 L429.91,743.93 L440.05,743.20 L450.08,742.28 L460.02,741.14 L469.85,739.81 L479.57,738.27 L489.17,736.53 L498.64,734.60 L507.97,732.47 L517.16,730.14 L526.19,727.63 L535.05,724.93 L543.75,722.04 L552.25,718.97 L560.57,715.73 L568.68,712.31 L576.58,708.72 L584.26,704.96 L591.72,701.05 L598.93,696.97 L605.91,692.75 L612.63,688.37 L619.09,683.85 L625.28,679.19 L631.20,674.40 L636.84,669.49 L642.20,664.45 L647.26,659.29 L652.02,654.02 L656.47,648.65 L660.62,643.17 L664.45,637.60 L667.97,631.95 L671.16,626.21 L674.03,620.39 L676.56,614.49 L678.77,608.53 L680.64,602.51 L682.17,596.43 L683.36,590.28 L684.22,584.07 L684.73,577.78 L684.90,571.30 M103.30,571.30 L103.47,578.02 L104.00,584.46 L104.87,590.77 L106.09,597.00 L107.65,603.15 L109.56,609.22 L111.81,615.22 L114.40,621.14 L117.32,626.98 L120.58,632.73 L124.17,638.40 L128.08,643.97 L132.32,649.44 L136.87,654.81 L141.73,660.07 L146.90,665.22 L152.37,670.24 L158.14,675.14 L164.19,679.91 L170.53,684.55 L177.14,689.04 L184.02,693.39 L191.16,697.60 L198.56,701.65 L206.20,705.54 L214.07,709.27 L222.18,712.83 L230.50,716.23 L239.04,719.45 L247.78,722.49 L256.71,725.35 L265.83,728.03 L275.13,730.52 L284.60,732.83 L294.22,734.94 L304.00,736.86 L313.92,738.58 L323.98,740.10 L334.18,741.43 L344.49,742.55 L354.94,743.47 L365.52,744.19 L376.25,744.70 L387.18,745.01 L398.60,745.11 L410.02,745.01 L420.95,744.70 L431.68,744.19 L442.26,743.47 L452.71,742.55 L463.02,741.43 L473.22,740.10 L483.28,738.58 L493.20,736.86 L502.98,734.94 L512.60,732.83 L522.07,730.52 L531.37,728.03 L540.49,725.35 L549.42,722.49 L558.16,719.45 L566.70,716.23 L575.02,712.83 L583.13,709.27 L591.00,705.54 L598.64,701.65 L606.04,697.60 L613.18,693.39 L620.06,689.04 L626.67,684.55 L633.01,679.91 L639.06,675.14 L644.83,670.24 L650.30,665.22 L655.47,660.07 L660.33,654.81 L664.88,649.44 L669.12,643.97 L673.03,638.40 L676.62,632.73 L679.88,626.98 L682.80,621.14 L685.39,615.22 L687.64,609.22 L689.55,603.15 L691.11,597.00 L692.33,590.77 L693.20,584.46 L693.73,578.02 L693.90,571.30 M96.50,571.30 L96.68,578.22 L97.21,584.77 L98.09,591.17 L99.33,597.47 L100.91,603.68 L102.85,609.80 L105.13,615.83 L107.76,621.78 L110.73,627.65 L114.04,633.42 L117.68,639.10 L121.65,644.69 L125.95,650.16 L130.58,655.54 L135.52,660.80 L140.77,665.94 L146.33,670.96 L152.19,675.85 L158.34,680.62 L164.79,685.24 L171.51,689.73 L178.51,694.07 L185.77,698.26 L193.30,702.30 L201.07,706.18 L209.10,709.89 L217.35,713.44 L225.84,716.83 L234.54,720.03 L243.46,723.06 L252.57,725.91 L261.89,728.58 L271.39,731.06 L281.06,733.35 L290.91,735.45 L300.92,737.36 L311.09,739.07 L321.40,740.59 L331.87,741.91 L342.48,743.02 L353.23,743.94 L364.15,744.65 L375.25,745.16 L386.60,745.47 L398.60,745.57 L410.60,745.47 L421.95,745.16 L433.05,744.65 L443.97,743.94 L454.72,743.02 L465.33,741.91 L475.80,740.59 L486.11,739.07 L496.28,737.36 L506.29,735.45 L516.14,733.35 L525.81,731.06 L535.31,728.58 L544.63,725.91 L553.74,723.06 L562.66,720.03 L571.36,716.83 L579.85,713.44 L588.10,709.89 L596.13,706.18 L603.90,702.30 L611.43,698.26 L618.69,694.07 L625.69,689.73 L632.41,685.24 L638.86,680.62 L645.01,675.85 L650.87,670.96 L656.43,665.94 L661.68,660.80 L666.62,655.54 L671.25,650.16 L675.55,644.69 L679.52,639.10 L683.16,633.42 L686.47,627.65 L689.44,621.78 L692.07,615.83 L694.35,609.80 L696.29,603.68 L697.87,597.47 L699.11,591.17 L699.99,584.77 L700.52,578.22 L700.70,571.30 M92.00,571.30 L92.18,578.55 L92.71,585.35 L93.61,591.99 L94.85,598.50 L96.46,604.91 L98.41,611.23 L100.71,617.46 L103.37,623.59 L106.37,629.63 L109.71,635.57 L113.38,641.42 L117.40,647.16 L121.74,652.79 L126.41,658.31 L131.40,663.71 L136.71,668.99 L142.32,674.15 L148.24,679.17 L154.46,684.06 L160.98,688.80 L167.77,693.40 L174.85,697.85 L182.20,702.15 L189.81,706.29 L197.67,710.26 L205.79,714.07 L214.15,717.71 L222.74,721.17 L231.55,724.46 L240.58,727.56 L249.82,730.48 L259.26,733.21 L268.89,735.75 L278.70,738.09 L288.70,740.25 L298.86,742.20 L309.19,743.95 L319.68,745.50 L330.32,746.85 L341.12,747.99 L352.08,748.93 L363.22,749.66 L374.57,750.18 L386.21,750.50 L398.60,750.60 L410.99,750.50 L422.63,750.18 L433.98,749.66 L445.12,748.93 L456.08,747.99 L466.88,746.85 L477.52,745.50 L488.01,743.95 L498.34,742.20 L508.50,740.25 L518.50,738.09 L528.31,735.75 L537.94,733.21 L547.38,730.48 L556.62,727.56 L565.65,724.46 L574.46,721.17 L583.05,717.71 L591.41,714.07 L599.53,710.26 L607.39,706.29 L615.00,702.15 L622.35,697.85 L629.43,693.40 L636.22,688.80 L642.74,684.06 L648.96,679.17 L654.88,674.15 L660.49,668.99 L665.80,663.71 L670.79,658.31 L675.46,652.79 L679.80,647.16 L683.82,641.42 L687.49,635.57 L690.83,629.63 L693.83,623.59 L696.49,617.46 L698.79,611.23 L700.74,604.91 L702.35,598.50 L703.59,591.99 L704.49,585.35 L705.02,578.55 L705.20,571.30 M86.50,571.30 L86.68,578.80 L87.22,585.78 L88.12,592.56 L89.39,599.21 L91.01,605.74 L92.98,612.16 L95.31,618.49 L98.00,624.72 L101.03,630.84 L104.41,636.87 L108.13,642.79 L112.19,648.60 L116.59,654.30 L121.31,659.89 L126.36,665.35 L131.73,670.69 L137.42,675.90 L143.42,680.98 L149.72,685.91 L156.31,690.70 L163.20,695.35 L170.37,699.84 L177.81,704.17 L185.53,708.35 L193.50,712.36 L201.74,716.20 L210.21,719.86 L218.93,723.35 L227.88,726.67 L237.05,729.79 L246.43,732.73 L256.03,735.48 L265.82,738.04 L275.80,740.41 L285.97,742.57 L296.32,744.54 L306.85,746.31 L317.54,747.87 L328.41,749.23 L339.45,750.38 L350.66,751.32 L362.08,752.05 L373.73,752.58 L385.72,752.89 L398.60,753.00 L411.48,752.89 L423.47,752.58 L435.12,752.05 L446.54,751.32 L457.75,750.38 L468.79,749.23 L479.66,747.87 L490.35,746.31 L500.88,744.54 L511.23,742.57 L521.40,740.41 L531.38,738.04 L541.17,735.48 L550.77,732.73 L560.15,729.79 L569.32,726.67 L578.27,723.35 L586.99,719.86 L595.46,716.20 L603.70,712.36 L611.67,708.35 L619.39,704.17 L626.83,699.84 L634.00,695.35 L640.89,690.70 L647.48,685.91 L653.78,680.98 L659.78,675.90 L665.47,670.69 L670.84,665.35 L675.89,659.89 L680.61,654.30 L685.01,648.60 L689.07,642.79 L692.79,636.87 L696.17,630.84 L699.20,624.72 L701.89,618.49 L704.22,612.16 L706.19,605.74 L707.81,599.21 L709.08,592.56 L709.98,585.78 L710.52,578.80 L710.70,571.30 M81.00,571.30 L81.18,579.00 L81.73,586.10 L82.64,592.98 L83.92,599.70 L85.56,606.30 L87.55,612.79 L89.91,619.17 L92.63,625.44 L95.69,631.61 L99.11,637.67 L102.87,643.62 L106.98,649.46 L111.43,655.19 L116.21,660.79 L121.32,666.28 L126.76,671.63 L132.51,676.85 L138.58,681.94 L144.96,686.89 L151.64,691.69 L158.61,696.34 L165.87,700.84 L173.42,705.18 L181.23,709.36 L189.32,713.37 L197.67,717.21 L206.26,720.88 L215.11,724.37 L224.19,727.68 L233.50,730.81 L243.03,733.75 L252.77,736.50 L262.73,739.05 L272.88,741.42 L283.23,743.58 L293.77,745.55 L304.49,747.31 L315.39,748.87 L326.48,750.23 L337.75,751.38 L349.22,752.32 L360.91,753.06 L372.87,753.58 L385.22,753.89 L398.60,754.00 L411.98,753.89 L424.33,753.58 L436.29,753.06 L447.98,752.32 L459.45,751.38 L470.72,750.23 L481.81,748.87 L492.71,747.31 L503.43,745.55 L513.97,743.58 L524.32,741.42 L534.47,739.05 L544.43,736.50 L554.17,733.75 L563.70,730.81 L573.01,727.68 L582.09,724.37 L590.94,720.88 L599.53,717.21 L607.88,713.37 L615.97,709.36 L623.78,705.18 L631.33,700.84 L638.59,696.34 L645.56,691.69 L652.24,686.89 L658.62,681.94 L664.69,676.85 L670.44,671.63 L675.88,666.28 L680.99,660.79 L685.77,655.19 L690.22,649.46 L694.33,643.62 L698.09,637.67 L701.51,631.61 L704.57,625.44 L707.29,619.17 L709.65,612.79 L711.64,606.30 L713.28,599.70 L714.56,592.98 L715.47,586.10 L716.02,579.00 L716.20,571.30 M73.50,571.30 L73.69,579.26 L74.24,586.51 L75.17,593.51 L76.46,600.33 L78.12,607.01 L80.15,613.56 L82.54,620.00 L85.30,626.32 L88.41,632.53 L91.88,638.63 L95.70,644.61 L99.87,650.48 L104.39,656.22 L109.24,661.85 L114.43,667.35 L119.96,672.71 L125.80,677.94 L131.97,683.04 L138.45,687.99 L145.25,692.79 L152.34,697.44 L159.73,701.94 L167.40,706.28 L175.36,710.45 L183.59,714.46 L192.09,718.30 L200.85,721.96 L209.87,725.45 L219.13,728.75 L228.63,731.87 L238.35,734.80 L248.31,737.55 L258.48,740.10 L268.86,742.46 L279.45,744.61 L290.24,746.57 L301.23,748.33 L312.42,749.89 L323.81,751.24 L335.41,752.39 L347.22,753.33 L359.29,754.06 L371.68,754.58 L384.52,754.90 L398.60,755.00 L412.68,754.90 L425.52,754.58 L437.91,754.06 L449.98,753.33 L461.79,752.39 L473.39,751.24 L484.78,749.89 L495.97,748.33 L506.96,746.57 L517.75,744.61 L528.34,742.46 L538.72,740.10 L548.89,737.55 L558.85,734.80 L568.57,731.87 L578.07,728.75 L587.33,725.45 L596.35,721.96 L605.11,718.30 L613.61,714.46 L621.84,710.45 L629.80,706.28 L637.47,701.94 L644.86,697.44 L651.95,692.79 L658.75,687.99 L665.23,683.04 L671.40,677.94 L677.24,672.71 L682.77,667.35 L687.96,661.85 L692.81,656.22 L697.33,650.48 L701.50,644.61 L705.32,638.63 L708.79,632.53 L711.90,626.32 L714.66,620.00 L717.05,613.56 L719.08,607.01 L720.74,600.33 L722.03,593.51 L722.96,586.51 L723.51,579.26 L723.70,571.30 M68.50,571.30 L68.69,579.45 L69.25,586.82 L70.18,593.91 L71.49,600.80 L73.17,607.55 L75.21,614.16 L77.63,620.64 L80.41,627.01 L83.55,633.26 L87.06,639.39 L90.92,645.40 L95.13,651.30 L99.69,657.07 L104.59,662.72 L109.84,668.23 L115.42,673.62 L121.33,678.86 L127.56,683.97 L134.11,688.93 L140.98,693.75 L148.15,698.41 L155.62,702.91 L163.38,707.26 L171.43,711.44 L179.76,715.45 L188.36,719.29 L197.23,722.95 L206.36,726.44 L215.74,729.75 L225.36,732.87 L235.22,735.81 L245.31,738.55 L255.63,741.10 L266.16,743.46 L276.91,745.62 L287.87,747.58 L299.04,749.34 L310.42,750.89 L322.01,752.24 L333.82,753.39 L345.87,754.33 L358.20,755.06 L370.86,755.58 L384.04,755.90 L398.60,756.00 L413.16,755.90 L426.34,755.58 L439.00,755.06 L451.33,754.33 L463.38,753.39 L475.19,752.24 L486.78,750.89 L498.16,749.34 L509.33,747.58 L520.29,745.62 L531.04,743.46 L541.57,741.10 L551.89,738.55 L561.98,735.81 L571.84,732.87 L581.46,729.75 L590.84,726.44 L599.97,722.95 L608.84,719.29 L617.44,715.45 L625.77,711.44 L633.82,707.26 L641.58,702.91 L649.05,698.41 L656.22,693.75 L663.09,688.93 L669.64,683.97 L675.87,678.86 L681.78,673.62 L687.36,668.23 L692.61,662.72 L697.51,657.07 L702.07,651.30 L706.28,645.40 L710.14,639.39 L713.65,633.26 L716.79,627.01 L719.57,620.64 L721.99,614.16 L724.03,607.55 L725.71,600.80 L727.02,593.91 L727.95,586.82 L728.51,579.45 L728.70,571.30 M59.50,571.30 L59.69,579.76 L60.26,587.31 L61.21,594.53 L62.54,601.53 L64.24,608.36 L66.33,615.04 L68.78,621.59 L71.61,628.01 L74.81,634.30 L78.37,640.47 L82.30,646.51 L86.58,652.43 L91.22,658.22 L96.21,663.88 L101.55,669.41 L107.23,674.80 L113.25,680.05 L119.60,685.16 L126.28,690.12 L133.27,694.93 L140.58,699.59 L148.20,704.09 L156.12,708.43 L164.33,712.60 L172.84,716.60 L181.62,720.43 L190.68,724.09 L200.01,727.56 L209.60,730.86 L219.44,733.97 L229.54,736.89 L239.87,739.63 L250.45,742.17 L261.26,744.52 L272.29,746.67 L283.56,748.62 L295.05,750.37 L306.77,751.92 L318.72,753.26 L330.92,754.40 L343.40,755.34 L356.18,756.06 L369.37,756.58 L383.15,756.90 L398.60,757.00 L414.05,756.90 L427.83,756.58 L441.02,756.06 L453.80,755.34 L466.28,754.40 L478.48,753.26 L490.43,751.92 L502.15,750.37 L513.64,748.62 L524.91,746.67 L535.94,744.52 L546.75,742.17 L557.33,739.63 L567.66,736.89 L577.76,733.97 L587.60,730.86 L597.19,727.56 L606.52,724.09 L615.58,720.43 L624.36,716.60 L632.87,712.60 L641.08,708.43 L649.00,704.09 L656.62,699.59 L663.93,694.93 L670.92,690.12 L677.60,685.16 L683.95,680.05 L689.97,674.80 L695.65,669.41 L700.99,663.88 L705.98,658.22 L710.62,652.43 L714.90,646.51 L718.83,640.47 L722.39,634.30 L725.59,628.01 L728.42,621.59 L730.87,615.04 L732.96,608.36 L734.66,601.53 L735.99,594.53 L736.94,587.31 L737.51,579.76 L737.70,571.30 M52.50,571.30 L52.69,580.02 L53.27,587.71 L54.23,595.04 L55.58,602.14 L57.30,609.04 L59.41,615.79 L61.90,622.39 L64.76,628.86 L68.00,635.19 L71.61,641.39 L75.59,647.47 L79.93,653.41 L84.63,659.22 L89.69,664.90 L95.10,670.44 L100.86,675.85 L106.96,681.11 L113.40,686.22 L120.17,691.19 L127.26,696.00 L134.68,700.66 L142.41,705.16 L150.45,709.50 L158.79,713.67 L167.43,717.67 L176.35,721.50 L185.56,725.15 L195.04,728.62 L204.79,731.91 L214.81,735.02 L225.09,737.94 L235.61,740.67 L246.39,743.20 L257.41,745.55 L268.66,747.69 L280.16,749.64 L291.90,751.38 L303.89,752.93 L316.12,754.27 L328.63,755.41 L341.43,756.34 L354.58,757.07 L368.17,757.58 L382.43,757.90 L398.60,758.00 L414.77,757.90 L429.03,757.58 L442.62,757.07 L455.77,756.34 L468.57,755.41 L481.08,754.27 L493.31,752.93 L505.30,751.38 L517.04,749.64 L528.54,747.69 L539.79,745.55 L550.81,743.20 L561.59,740.67 L572.11,737.94 L582.39,735.02 L592.41,731.91 L602.16,728.62 L611.64,725.15 L620.85,721.50 L629.77,717.67 L638.41,713.67 L646.75,709.50 L654.79,705.16 L662.52,700.66 L669.94,696.00 L677.03,691.19 L683.80,686.22 L690.24,681.11 L696.34,675.85 L702.10,670.44 L707.51,664.90 L712.57,659.22 L717.27,653.41 L721.61,647.47 L725.59,641.39 L729.20,635.19 L732.44,628.86 L735.30,622.39 L737.79,615.79 L739.90,609.04 L741.62,602.14 L742.97,595.04 L743.93,587.71 L744.51,580.02 L744.70,571.30 M50.34,595.34 L51.70,602.49 L53.44,609.44 L55.56,616.22 L58.06,622.85 L60.95,629.34 L64.21,635.70 L67.84,641.92 L71.85,648.01 L76.22,653.97 L80.96,659.80 L86.05,665.49 L91.50,671.04 L97.30,676.45 L103.45,681.72 L109.94,686.84 L116.76,691.81 L123.91,696.63 L131.38,701.29 L139.18,705.79 L147.28,710.13 L155.69,714.30 L164.40,718.30 L173.40,722.13 L182.69,725.78 L192.26,729.25 L202.11,732.54 L212.22,735.64 L222.59,738.56 L233.23,741.29 L244.11,743.82 L255.25,746.16 L266.63,748.30 L278.26,750.25 L290.14,751.99 L302.27,753.54 L314.66,754.88 L327.34,756.01 L340.33,756.94 L353.68,757.67 L367.50,758.19 L382.03,758.50 L398.60,758.60 L415.17,758.50 L429.70,758.19 L443.52,757.67 L456.87,756.94 L469.86,756.01 L482.54,754.88 L494.93,753.54 L507.06,751.99 L518.94,750.25 L530.57,748.30 L541.95,746.16 L553.09,743.82 L563.97,741.29 L574.61,738.56 L584.98,735.64 L595.09,732.54 L604.94,729.25 L614.51,725.78 L623.80,722.13 L632.80,718.30 L641.51,714.30 L649.92,710.13 L658.02,705.79 L665.82,701.29 L673.29,696.63 L680.44,691.81 L687.26,686.84 L693.75,681.72 L699.90,676.45 L705.70,671.04 L711.15,665.49 L716.24,659.80 L720.98,653.97 L725.35,648.01 L729.36,641.92 L732.99,635.70 L736.25,629.34 L739.14,622.85 L741.64,616.22 L743.76,609.44 L745.50,602.49 L746.86,595.34"/>
<path class="ax" d="M49.00,571.30 H768.75 M398.60,531.75 V766.70 M73.60,561.30 V571.30 M98.60,561.30 V571.30 M123.60,561.30 V571.30 M148.60,561.30 V571.30 M173.60,561.30 V571.30 M198.60,561.30 V571.30 M223.60,561.30 V571.30 M248.60,561.30 V571.30 M273.60,561.30 V571.30 M298.60,561.30 V571.30 M323.60,561.30 V571.30 M348.60,561.30 V571.30 M373.60,561.30 V571.30 M398.60,561.30 V571.30 M423.60,561.30 V571.30 M448.60,561.30 V571.30 M473.60,561.30 V571.30 M498.60,561.30 V571.30 M523.60,561.30 V571.30 M548.60,561.30 V571.30 M573.60,561.30 V571.30 M598.60,561.30 V571.30 M623.60,561.30 V571.30 M648.60,561.30 V571.30 M673.60,561.30 V571.30 M698.60,561.30 V571.30 M723.60,561.30 V571.30 M748.60,561.30 V571.30 M398.60,621.30 H416.10 M398.60,671.30 H416.10 M398.60,721.30 H416.10"/>
<rect x="77.04" y="551.90" width="43.13" height="11.30" fill="#fff"/>
<text transform="translate(98.60,563.00) " text-anchor="middle">-0.006</text>
<rect x="177.04" y="551.90" width="43.13" height="11.30" fill="#fff"/>
<text transform="translate(198.60,563.00) " text-anchor="middle">-0.004</text>
<rect x="277.04" y="551.90" width="43.13" height="11.30" fill="#fff"/>
<text transform="translate(298.60,563.00) " text-anchor="middle">-0.002</text>
<rect x="394.13" y="551.90" width="8.94" height="11.30" fill="#fff"/>
<text transform="translate(398.60,563.00) " text-anchor="middle">0</text>
<rect x="479.54" y="551.90" width="38.13" height="11.30" fill="#fff"/>
<text transform="translate(498.60,563.00) " text-anchor="middle">0.002</text>
<rect x="579.54" y="551.90" width="38.13" height="11.30" fill="#fff"/>
<text transform="translate(598.60,563.00) " text-anchor="middle">0.004</text>
<rect x="679.54" y="551.90" width="38.13" height="11.30" fill="#fff"/>
<text transform="translate(698.60,563.00) " text-anchor="middle">0.006</text>
<rect x="358.81" y="565.90" width="29.79" height="11.30" fill="#fff"/>
<text transform="translate(388.30,577.00) " text-anchor="end">0.01</text>
<rect x="350.47" y="615.90" width="38.13" height="11.30" fill="#fff"/>
<text transform="translate(388.30,627.00) " text-anchor="end">0.009</text>
<rect x="350.47" y="665.90" width="38.13" height="11.30" fill="#fff"/>
<text transform="translate(388.30,677.00) " text-anchor="end">0.008</text>
<rect x="350.47" y="715.90" width="38.13" height="11.30" fill="#fff"/>
<text transform="translate(388.30,727.00) " text-anchor="end">0.007</text>
<text class="cap" x="401.4" y="202.6" text-anchor="middle">q = 0.06 ml/s</text>
<text class="cap" x="401.4" y="493.9" text-anchor="middle">q = 0.21 ml/s</text>
<text class="cap" x="400.9" y="807.8" text-anchor="middle">q = 0.48 ml/s</text>
</svg>
</body></html>
